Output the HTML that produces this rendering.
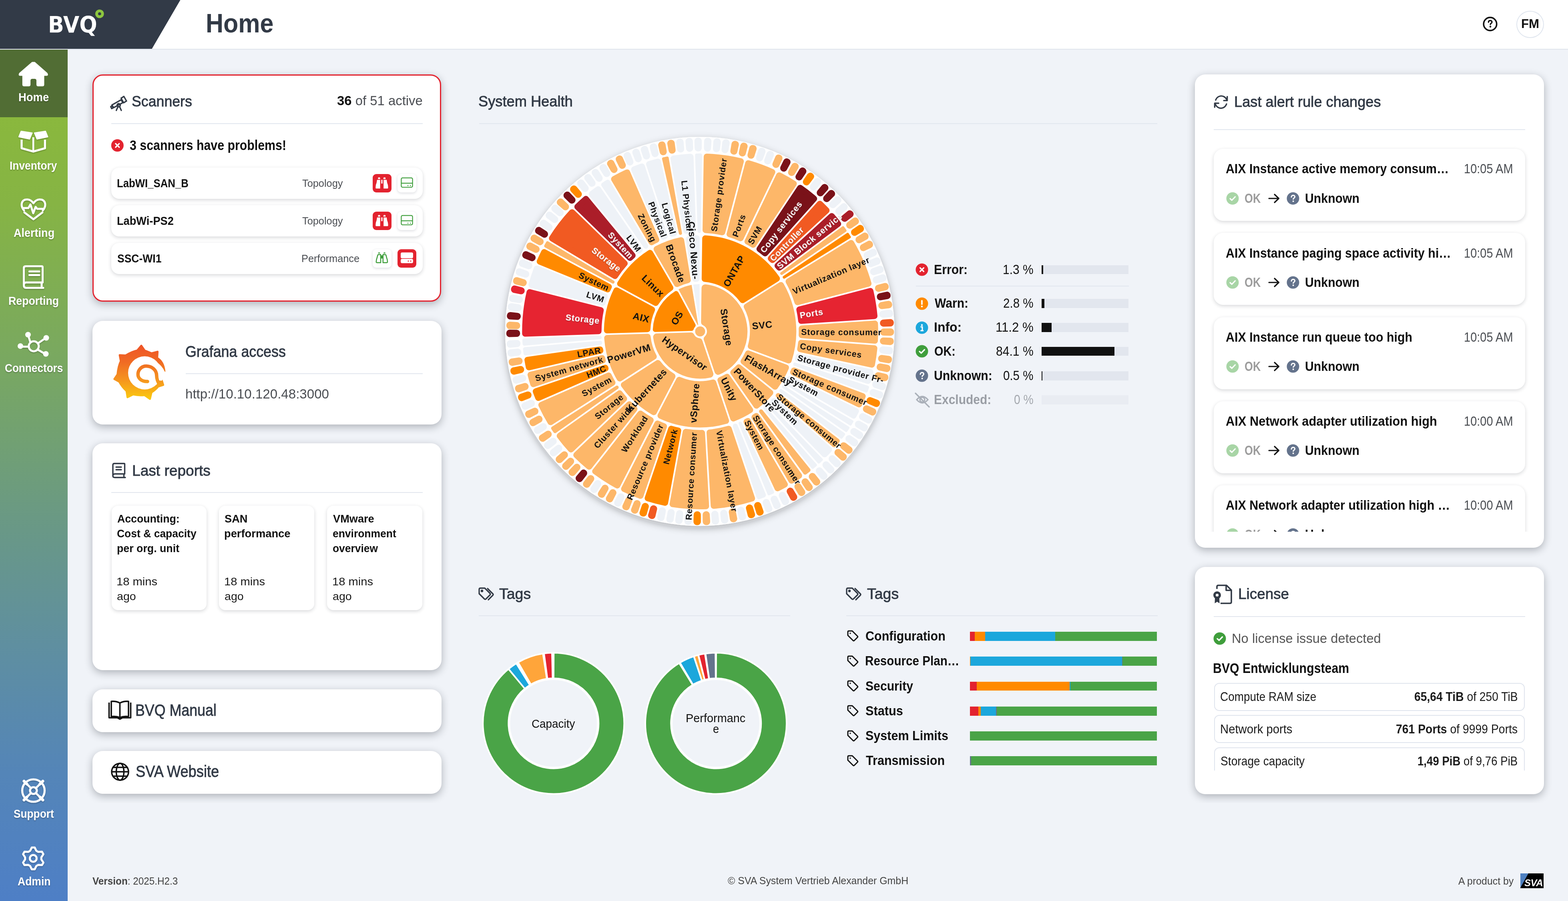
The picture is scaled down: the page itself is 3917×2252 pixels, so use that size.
<!DOCTYPE html><html><head><meta charset="utf-8"><title>BVQ Home</title><style>
*{margin:0;padding:0;box-sizing:border-box}
html,body{width:3917px;height:2252px;overflow:hidden;background:#f0f3f8}
body{position:relative;font-family:"Liberation Sans",Arial,sans-serif}
.a{position:absolute}
.t{position:absolute;white-space:nowrap;line-height:1}
.card{position:absolute;background:#fff;border-radius:26px;box-shadow:0 6px 20px rgba(20,25,35,.30)}
.row{position:absolute;background:#fff;border-radius:20px;box-shadow:0 3px 10px rgba(20,25,35,.17)}
.btn{position:absolute;background:#fff;border-radius:9px;box-shadow:0 2px 6px rgba(30,40,60,.16)}
svg.a{overflow:visible}
</style></head><body><svg width="0" height="0" style="position:absolute"><defs><filter id="ish" x="-30%" y="-30%" width="160%" height="170%"><feDropShadow dx="0" dy="2" stdDeviation="1.6" flood-color="#000" flood-opacity="0.25"/></filter></defs></svg><div class="a" style="left:0;top:0;width:3917px;height:124px;background:#fff;border-bottom:2px solid #dfe4ec"></div><svg class="a" style="left:0px;top:0px;" width="460" height="122" viewBox="0 0 460 122"><polygon points="0,0 450.5,0 379.5,122 0,122" fill="#323a47"/></svg><div class="t" style="left:120.1px;top:33.9px;font-family:'DejaVu Sans','Liberation Sans',sans-serif;font-weight:700;font-size:57px;color:#fff;transform-origin:0 50%;transform:scaleX(0.917)">BVQ</div><svg class="a" style="left:236px;top:22px;" width="26" height="26" viewBox="0 0 26 26"><circle cx="12.8" cy="12.5" r="7.3" fill="none" stroke="#8dc63f" stroke-width="7"/></svg><div class="t" style="left:514.4px;top:24.8px;font-size:66.13px;color:#323a46;transform-origin:0 50%;transform:scaleX(0.9225);font-weight:700;">Home</div><svg class="a" style="left:3700px;top:38px;" width="46" height="46" viewBox="0 0 46 46"><circle cx="22.5" cy="22" r="16.3" fill="none" stroke="#111" stroke-width="3.7"/><path d="M18.4 17.6c0-2.7 1.9-4.2 4.4-4.2 2.5 0 4.3 1.5 4.3 3.7 0 2-1.4 2.7-2.6 3.5-0.9.6-1.4 1.2-1.4 2.6" fill="none" stroke="#111" stroke-width="3.3" stroke-linecap="round"/><circle cx="23.1" cy="28.6" r="2.3" fill="#111"/></svg><div class="a" style="left:3788px;top:27px;width:68.5px;height:68px;border:2.5px solid #dfe5ee;border-radius:50%;background:#fff"></div><div class="t" style="left:3800.1px;top:43.7px;font-size:31.76px;color:#111;transform-origin:0 50%;transform:scaleX(0.9853);font-weight:700;">FM</div><div class="a" style="left:0;top:124px;width:169px;height:2128px;background:linear-gradient(180deg,#8dbb38 0%,#86b444 18%,#78a763 38%,#6a9984 55%,#5f8fa0 70%,#5485b8 85%,#4e7fc6 100%)"></div><div class="a" style="left:0;top:124px;width:169px;height:169px;background:#516d34"></div><div class="t" style="left:46.0px;top:229.2px;font-size:28.64px;color:#fff;transform-origin:0 50%;transform:scaleX(0.9576);font-weight:700;text-shadow:0 2px 3px rgba(0,0,0,.28);">Home</div><div class="t" style="left:24.4px;top:399.6px;font-size:28.64px;color:#fff;transform-origin:0 50%;transform:scaleX(0.9198);font-weight:700;text-shadow:0 2px 3px rgba(0,0,0,.28);">Inventory</div><div class="t" style="left:34.0px;top:567.6px;font-size:28.64px;color:#fff;transform-origin:0 50%;transform:scaleX(0.9447);font-weight:700;text-shadow:0 2px 3px rgba(0,0,0,.28);">Alerting</div><div class="t" style="left:21.4px;top:737.6px;font-size:28.64px;color:#fff;transform-origin:0 50%;transform:scaleX(0.9334);font-weight:700;text-shadow:0 2px 3px rgba(0,0,0,.28);">Reporting</div><div class="t" style="left:11.8px;top:905.9px;font-size:28.64px;color:#fff;transform-origin:0 50%;transform:scaleX(0.9139);font-weight:700;text-shadow:0 2px 3px rgba(0,0,0,.28);">Connectors</div><div class="t" style="left:33.9px;top:2019.6px;font-size:28.64px;color:#fff;transform-origin:0 50%;transform:scaleX(0.9176);font-weight:700;text-shadow:0 2px 3px rgba(0,0,0,.28);">Support</div><div class="t" style="left:43.7px;top:2188.6px;font-size:28.64px;color:#fff;transform-origin:0 50%;transform:scaleX(0.9257);font-weight:700;text-shadow:0 2px 3px rgba(0,0,0,.28);">Admin</div><svg class="a" style="left:0px;top:0px;" width="169" height="2252" viewBox="0 0 169 2252"><path d="M80.2 155.5 H86.8 L117.5 182.5 Q121.5 188.8 115.5 188.8 H51 Q45 188.8 49 182.5 Z" fill="#fff" stroke="#fff" stroke-width="1.5" stroke-linejoin="round"/><path d="M55.8 187 H110.5 V211.2 Q110.5 215.7 106 215.7 H95.5 Q91 215.7 91 211.2 V201.4 Q91 196.9 86.5 196.9 H80.7 Q76.2 196.9 76.2 201.4 V211.2 Q76.2 215.7 71.7 215.7 H60.3 Q55.8 215.7 55.8 211.2 Z" fill="#fff"/><g filter="url(#ish)"><path d="M54 349 V370.5 L83.2 378.8 L112.4 370.5 V349" fill="none" stroke="#fff" stroke-width="5.2" stroke-linejoin="round"/><path d="M83.2 343 V377" stroke="#fff" stroke-width="4.6"/><path d="M52.8 328 L80.2 332.2 L73.8 347.6 L47.2 342 Z" fill="#fff" stroke="#fff" stroke-width="2.6" stroke-linejoin="round"/><path d="M113.6 328 L86.2 332.2 L92.6 347.6 L119.2 342 Z" fill="#fff" stroke="#fff" stroke-width="2.6" stroke-linejoin="round"/></g><g filter="url(#ish)" fill="none" stroke="#fff" stroke-width="5" stroke-linejoin="round" stroke-linecap="round"><path d="M60 526 C50 514 53 499 67 498.5 C75 498 80 503 83.5 508 C87 503 92 498 100 498.5 C114 499 117 514 107 526"/><path d="M61 531 L83.5 548 L106 531"/><path d="M58 520 H71 L76 511 L83 533 L89 517 L93 522 H109"/></g><g filter="url(#ish)" fill="none" stroke="#fff" stroke-width="5" stroke-linejoin="round" stroke-linecap="round"><path d="M59.5 712 V670 Q59.5 665.5 64 665.5 H104 Q106.5 665.5 106.5 668 V706 H65.5 Q59.5 706 59.5 712.5 Q59.5 719.5 65.5 719.5 H108"/><path d="M73.5 678.5 H98 M73.5 687.5 H98"/><path d="M104 708 V719"/></g><g filter="url(#ish)" fill="none" stroke="#fff" stroke-width="5" stroke-linecap="round"><circle cx="84.3" cy="865.5" r="12.5"/><path d="M76 856 L71 840 M95 858 L111 847 M71.8 866.5 L54 866.5 M94.5 874 L110 883"/></g><g fill="#fff"><circle cx="70" cy="836.5" r="7"/><circle cx="115.5" cy="844.5" r="7"/><circle cx="51" cy="865" r="7"/><circle cx="114.5" cy="884.5" r="7"/></g><g filter="url(#ish)" fill="none" stroke="#fff" stroke-width="5.2" stroke-linecap="round"><circle cx="83.5" cy="1976" r="28"/><circle cx="83.5" cy="1976" r="8.5"/><path d="M65 1957.5 L77.5 1970 M102 1957.5 L89.5 1970 M65 1994.5 L77.5 1982 M102 1994.5 L89.5 1982"/><path d="M60 1952.5 L67 1959.5 M107 1952.5 L100 1959.5 M60 1999.5 L67 1992.5 M107 1999.5 L100 1992.5" stroke-width="7"/></g><g filter="url(#ish)" fill="none" stroke="#fff" stroke-width="5" stroke-linejoin="round"><path d="M79.4 2118.2 L86.6 2118.2 L90.8 2126.6 L95.5 2129.2 L104.8 2128.8 L108.4 2135.0 L103.3 2142.8 L103.3 2148.2 L108.4 2156.0 L104.8 2162.2 L95.5 2161.8 L90.8 2164.4 L86.6 2172.8 L79.4 2172.8 L75.2 2164.4 L70.5 2161.8 L61.2 2162.2 L57.6 2156.0 L62.7 2148.2 L62.7 2142.8 L57.6 2135.0 L61.2 2128.8 L70.5 2129.2 L75.2 2126.6 Z"/><circle cx="83" cy="2145.5" r="8.5"/></g></svg><div class="a" style="left:169px;top:124px;width:3748px;height:1883px;overflow:hidden"><div class="a" style="left:-169px;top:-124px;width:3917px;height:2252px"><div class="card" style="left:231px;top:186px;width:871px;height:568px;border:3px solid #e3232f;box-sizing:border-box;border-radius:26px"></div><svg class="a" style="left:272px;top:232px;" width="48" height="44" viewBox="0 0 48 44"><g fill="none" stroke="#323a46" stroke-width="3.3" stroke-linejoin="round" stroke-linecap="round"><path d="M7.5 30.5 L30.5 17.5 L35 24.5 L12 37 Z"/><path d="M30.5 13.5 L37.5 9 L44 20.5 L37 24.8 Z"/><path d="M4.5 34.5 L7.5 32.5 L10.5 37.5 L7 39.5 Z"/><circle cx="24.5" cy="31" r="4"/><path d="M22.5 35 L18.5 44 M27 35 L31 44"/></g></svg><div class="t" style="left:329.4px;top:235.9px;font-size:36.97px;color:#323a46;transform-origin:0 50%;transform:scaleX(0.9658);-webkit-text-stroke:0.85px currentColor;">Scanners</div><div class="t" style="left:842.2px;top:236.1px;font-size:32.81px;color:#4a4d52;transform-origin:0 50%;transform:scaleX(1.0023);"><b style="color:#111">36</b> of 51 active</div><div class="a" style="left:278px;top:308.0px;width:778px;height:2px;background:#e1e6ee"></div><svg class="a" style="left:277px;top:347px;" width="33" height="33" viewBox="0 0 33 33"><circle cx="16.3" cy="16.5" r="15.5" fill="#e3232f"/><path d="M11.8 12 L20.8 21 M20.8 12 L11.8 21" stroke="#fff" stroke-width="3.2" stroke-linecap="round"/></svg><div class="t" style="left:324.2px;top:346.4px;font-size:34.37px;color:#111;transform-origin:0 50%;transform:scaleX(0.8826);font-weight:700;">3 scanners have problems!</div><div class="row" style="left:278px;top:419px;width:778px;height:78px"></div><div class="t" style="left:291.6px;top:442.9px;font-size:29.99px;color:#111;transform-origin:0 50%;transform:scaleX(0.8585);font-weight:700;">LabWI_SAN_B</div><div class="t" style="left:754.5px;top:444.6px;font-size:26.56px;color:#4a4d52;transform-origin:0 50%;transform:scaleX(0.9544);">Topology</div><div class="a" style="left:931px;top:435px;width:46.5px;height:46px;border-radius:9px;background:#e3232f"></div><svg class="a" style="left:931px;top:435px;" width="46.5" height="46" viewBox="0 0 46.5 46"><path d="M13.3 12.6 V10.6 Q13.3 8.2 16 8.2 Q18.7 8.2 18.7 10.6 V12.6 Z M26.8 12.6 V10.6 Q26.8 8.2 29.5 8.2 Q32.2 8.2 32.2 10.6 V12.6 Z" fill="#fff"/><path d="M10.9 14.4 H18.7 V36.2 H8.6 Q7.3 36.2 7.3 34.6 Q7.3 27.5 9.3 23.2 Q10.3 20 10.9 14.4 Z" fill="#fff"/><path d="M35 14.4 H27.2 V36.2 H37.3 Q38.6 36.2 38.6 34.6 Q38.6 27.5 36.6 23.2 Q35.6 20 35 14.4 Z" fill="#fff"/><rect x="21.4" y="14.4" width="3.2" height="9.4" fill="#fff"/></svg><div class="btn" style="left:993px;top:435px;width:46.5px;height:46px"></div><svg class="a" style="left:993px;top:435px;" width="46.5" height="46" viewBox="0 0 46.5 46"><g fill="none" stroke="#3f9e3c" stroke-width="2.2" stroke-linejoin="round"><rect x="9.4" y="9.6" width="28.2" height="23.4" rx="3.2"/><path d="M9.4 22.9 H37.6"/></g><circle cx="26.1" cy="28.9" r="1.3" fill="#3f9e3c"/><circle cx="32.1" cy="28.9" r="1.3" fill="#3f9e3c"/></svg><div class="row" style="left:278px;top:513px;width:778px;height:78px"></div><div class="t" style="left:291.5px;top:536.9px;font-size:29.99px;color:#111;transform-origin:0 50%;transform:scaleX(0.9069);font-weight:700;">LabWi-PS2</div><div class="t" style="left:754.5px;top:538.6px;font-size:26.56px;color:#4a4d52;transform-origin:0 50%;transform:scaleX(0.9544);">Topology</div><div class="a" style="left:931px;top:529px;width:46.5px;height:46px;border-radius:9px;background:#e3232f"></div><svg class="a" style="left:931px;top:529px;" width="46.5" height="46" viewBox="0 0 46.5 46"><path d="M13.3 12.6 V10.6 Q13.3 8.2 16 8.2 Q18.7 8.2 18.7 10.6 V12.6 Z M26.8 12.6 V10.6 Q26.8 8.2 29.5 8.2 Q32.2 8.2 32.2 10.6 V12.6 Z" fill="#fff"/><path d="M10.9 14.4 H18.7 V36.2 H8.6 Q7.3 36.2 7.3 34.6 Q7.3 27.5 9.3 23.2 Q10.3 20 10.9 14.4 Z" fill="#fff"/><path d="M35 14.4 H27.2 V36.2 H37.3 Q38.6 36.2 38.6 34.6 Q38.6 27.5 36.6 23.2 Q35.6 20 35 14.4 Z" fill="#fff"/><rect x="21.4" y="14.4" width="3.2" height="9.4" fill="#fff"/></svg><div class="btn" style="left:993px;top:529px;width:46.5px;height:46px"></div><svg class="a" style="left:993px;top:529px;" width="46.5" height="46" viewBox="0 0 46.5 46"><g fill="none" stroke="#3f9e3c" stroke-width="2.2" stroke-linejoin="round"><rect x="9.4" y="9.6" width="28.2" height="23.4" rx="3.2"/><path d="M9.4 22.9 H37.6"/></g><circle cx="26.1" cy="28.9" r="1.3" fill="#3f9e3c"/><circle cx="32.1" cy="28.9" r="1.3" fill="#3f9e3c"/></svg><div class="row" style="left:278px;top:607px;width:778px;height:78px"></div><div class="t" style="left:292.5px;top:630.9px;font-size:29.99px;color:#111;transform-origin:0 50%;transform:scaleX(0.8842);font-weight:700;">SSC-WI1</div><div class="t" style="left:753.0px;top:632.6px;font-size:26.56px;color:#4a4d52;transform-origin:0 50%;transform:scaleX(0.9548);">Performance</div><div class="btn" style="left:931px;top:623px;width:46.5px;height:46px"></div><svg class="a" style="left:931px;top:623px;" width="46.5" height="46" viewBox="0 0 46.5 46"><path d="M13.3 10.4 Q13.3 7.8 16 7.8 Q18.7 7.8 18.7 10.4 Z M26.8 10.4 Q26.8 7.8 29.5 7.8 Q32.2 7.8 32.2 10.4 Z" fill="#3f9e3c"/><g fill="none" stroke="#3f9e3c" stroke-width="2.5" stroke-linejoin="round"><path d="M12.6 14.6 Q13.2 13.3 14.6 13.3 H20 V33.4 H10.5 Q8.8 33.4 8.8 31.6 Q8.8 26.5 10.6 22.2 Z"/><path d="M33.2 14.6 Q32.6 13.3 31.2 13.3 H25.8 V33.4 H35.3 Q37 33.4 37 31.6 Q37 26.5 35.2 22.2 Z"/></g><rect x="20.5" y="15.3" width="4.8" height="7.8" fill="#3f9e3c"/></svg><div class="a" style="left:993px;top:623px;width:46.5px;height:46px;border-radius:9px;background:#e3232f"></div><svg class="a" style="left:993px;top:623px;" width="46.5" height="46" viewBox="0 0 46.5 46"><rect x="8" y="7.9" width="30.9" height="14.6" rx="3.6" fill="#fff"/><rect x="8" y="23.9" width="30.9" height="10.9" rx="3.6" fill="#fff"/><circle cx="27" cy="29.6" r="1.5" fill="#e3232f"/><circle cx="33" cy="29.6" r="1.5" fill="#e3232f"/></svg><div class="card" style="left:231px;top:802px;width:872px;height:259px;"></div><svg class="a" style="left:0;top:0" width="1120" height="1100" viewBox="0 0 1120 1100"><defs><linearGradient id="gfg" gradientUnits="userSpaceOnUse" x1="0" y1="862" x2="0" y2="1001"><stop offset="0" stop-color="#ee5327"/><stop offset="0.3" stop-color="#f06a24"/><stop offset="0.62" stop-color="#f5931f"/><stop offset="1" stop-color="#fbcd0e"/></linearGradient></defs><path d="M410.8 928.5 L401.5 949 L403.7 949.6 L407.6 962.1 L395.1 966.1 Q389.7 972.9 378.4 980.8 L374.6 997.0 L361.0 987.4 Q346.1 988.9 332.6 985.8 L318.5 992.8 L316.1 977.2 Q304.4 966.2 298.0 954.0 L285.8 947.3 L293.6 935.8 Q295.6 914.9 301.8 902.5 L299.1 887.7 L314.1 888.4 Q329.6 878.8 343.1 875.9 L353.0 864.1 L361.7 876.7 Q365.7 877.2 378.2 883.1 L393.6 879.1 L392.6 894.9 Q408.5 904 410.8 928.5 Z" fill="url(#gfg)" stroke="url(#gfg)" stroke-width="5" stroke-linejoin="round"/><circle cx="361.5" cy="932" r="41.5" fill="#fff"/><path d="M391 905 Q405 914 411.2 928.5 L415.5 930 L404.5 951.5 L394 951 Z" fill="#fff"/><path d="M368.5 953.5 C353 954 344.3 945 344.7 935 C345.3 922 356 914.5 366 915 C380 915.5 391 925 391.2 938 C391.4 948 394 955 399 962" fill="none" stroke="url(#gfg)" stroke-width="8.5" stroke-linecap="round"/></svg><div class="t" style="left:463.2px;top:860.1px;font-size:38.53px;color:#323a46;transform-origin:0 50%;transform:scaleX(0.9300);-webkit-text-stroke:0.85px currentColor;">Grafana access</div><div class="a" style="left:464px;top:932.5px;width:592px;height:2px;background:#e1e6ee"></div><div class="t" style="left:462.7px;top:969.3px;font-size:32.29px;color:#4a4d52;transform-origin:0 50%;transform:scaleX(1.0257);">http://10.10.120.48:3000</div><div class="card" style="left:231px;top:1108px;width:872px;height:567px;"></div><svg class="a" style="left:278px;top:1155px;" width="38" height="42" viewBox="0 0 38 42"><g fill="none" stroke="#323a46" stroke-width="3.4" stroke-linejoin="round" stroke-linecap="round"><path d="M4 34 V7 Q4 3.5 7.5 3.5 H32 Q33.5 3.5 33.5 5 V29.5 H9 Q4 29.5 4 34.5 Q4 38.5 9 38.5 H35"/><path d="M12 12.5 H25 M12 19 H25"/><path d="M31.5 31 V38"/></g></svg><div class="t" style="left:329.7px;top:1158.9px;font-size:36.97px;color:#323a46;transform-origin:0 50%;transform:scaleX(1.0034);-webkit-text-stroke:0.85px currentColor;">Last reports</div><div class="a" style="left:278px;top:1230.0px;width:778px;height:2px;background:#e1e6ee"></div><div class="row" style="left:278.5px;top:1264px;width:237.5px;height:261px;border-radius:16px"></div><div class="t" style="left:292.8px;top:1283.0px;font-size:27.91px;color:#111;transform-origin:0 50%;transform:scaleX(0.9560);font-weight:700;">Accounting:</div><div class="t" style="left:292.4px;top:1320.0px;font-size:27.91px;color:#111;transform-origin:0 50%;transform:scaleX(0.9487);font-weight:700;">Cost &amp; capacity</div><div class="t" style="left:291.8px;top:1357.0px;font-size:27.91px;color:#111;transform-origin:0 50%;transform:scaleX(0.9587);font-weight:700;">per org. unit</div><div class="t" style="left:291.3px;top:1440.0px;font-size:27.91px;color:#1a1a1a;transform-origin:0 50%;transform:scaleX(1.0453);">18 mins</div><div class="t" style="left:292.4px;top:1477.0px;font-size:27.91px;color:#1a1a1a;transform-origin:0 50%;transform:scaleX(1.0240);">ago</div><div class="row" style="left:547px;top:1264px;width:237.5px;height:261px;border-radius:16px"></div><div class="t" style="left:561.2px;top:1283.0px;font-size:27.91px;color:#111;transform-origin:0 50%;transform:scaleX(0.9744);font-weight:700;">SAN</div><div class="t" style="left:560.2px;top:1320.0px;font-size:27.91px;color:#111;transform-origin:0 50%;transform:scaleX(0.9787);font-weight:700;">performance</div><div class="t" style="left:559.8px;top:1440.0px;font-size:27.91px;color:#1a1a1a;transform-origin:0 50%;transform:scaleX(1.0453);">18 mins</div><div class="t" style="left:560.9px;top:1477.0px;font-size:27.91px;color:#1a1a1a;transform-origin:0 50%;transform:scaleX(1.0240);">ago</div><div class="row" style="left:817px;top:1264px;width:237.5px;height:261px;border-radius:16px"></div><div class="t" style="left:831.9px;top:1283.0px;font-size:27.91px;color:#111;transform-origin:0 50%;transform:scaleX(0.9739);font-weight:700;">VMware</div><div class="t" style="left:830.9px;top:1320.0px;font-size:27.91px;color:#111;transform-origin:0 50%;transform:scaleX(0.9478);font-weight:700;">environment</div><div class="t" style="left:830.9px;top:1357.0px;font-size:27.91px;color:#111;transform-origin:0 50%;transform:scaleX(0.9453);font-weight:700;">overview</div><div class="t" style="left:829.8px;top:1440.0px;font-size:27.91px;color:#1a1a1a;transform-origin:0 50%;transform:scaleX(1.0453);">18 mins</div><div class="t" style="left:830.9px;top:1477.0px;font-size:27.91px;color:#1a1a1a;transform-origin:0 50%;transform:scaleX(1.0240);">ago</div><div class="card" style="left:231px;top:1722.5px;width:872px;height:107px;"></div><svg class="a" style="left:270px;top:1750px;" width="60" height="50" viewBox="0 0 60 50"><g fill="none" stroke="#111" stroke-width="3.6" stroke-linejoin="round"><path d="M2.5 6 V44 H23 L29.5 47.5 L36 44 H56.5 V6"/><path d="M8 41 V3 Q20 2 29.5 7 Q39 2 51 3 V41 Q39 39.5 29.5 43.5 Q20 39.5 8 41 Z"/><path d="M29.5 7 V43"/></g></svg><div class="t" style="left:337.6px;top:1754.6px;font-size:40.62px;color:#323a46;transform-origin:0 50%;transform:scaleX(0.8809);-webkit-text-stroke:0.85px currentColor;">BVQ Manual</div><div class="card" style="left:231px;top:1877px;width:872px;height:107px;"></div><svg class="a" style="left:276px;top:1905px;" width="50" height="50" viewBox="0 0 50 50"><g fill="none" stroke="#111" stroke-width="3.6"><circle cx="24" cy="24" r="21"/><ellipse cx="24" cy="24" rx="9.5" ry="21"/><path d="M3 24 H45 M6 13 H42 M6 35 H42"/></g></svg><div class="t" style="left:338.9px;top:1908.2px;font-size:40.62px;color:#323a46;transform-origin:0 50%;transform:scaleX(0.8925);-webkit-text-stroke:0.85px currentColor;">SVA Website</div><div class="t" style="left:1195.4px;top:236.3px;font-size:36.97px;color:#323a46;transform-origin:0 50%;transform:scaleX(0.9803);-webkit-text-stroke:0.85px currentColor;">System Health</div><div class="a" style="left:1197px;top:307.5px;width:1694px;height:2px;background:#e1e6ee"></div><svg class="a" style="left:0;top:0" width="3917" height="1400" viewBox="0 0 3917 1400"><defs><filter id="sbsh" x="-10%" y="-10%" width="120%" height="125%"><feDropShadow dx="0" dy="6" stdDeviation="9" flood-color="#141923" flood-opacity="0.30"/></filter><filter id="tsh" x="-20%" y="-40%" width="140%" height="180%"><feDropShadow dx="0" dy="1" stdDeviation="1.2" flood-color="#000" flood-opacity="0.45"/></filter></defs><circle cx="1748.2" cy="828.3" r="486.3" fill="#fff" filter="url(#sbsh)"/>
<circle cx="1749.0" cy="828.3" r="12.5" fill="#fdb769"/>
<path d="M1761.5 719.7A109.3 109.3 0 0 1 1793.9 927.9L1766.9 847.2A26.0 26.0 0 0 0 1760.3 804.9Z" fill="#fdb769" stroke="#fdb769" stroke-width="18.0" stroke-linejoin="round"/>
<path d="M1773.1 934.9A109.3 109.3 0 0 1 1640.6 842.5L1725.8 840.0A26.0 26.0 0 0 0 1746.0 854.1Z" fill="#fdb769" stroke="#fdb769" stroke-width="18.0" stroke-linejoin="round"/>
<path d="M1636.6 823.8A112.5 112.5 0 0 1 1689.1 733.1L1731.9 813.1A22.8 22.8 0 0 0 1727.3 821.1Z" fill="#ff8a00" stroke="#ff8a00" stroke-width="11.7" stroke-linejoin="round"/>
<path d="M1695.4 723.3A117.9 117.9 0 0 1 1727.4 712.4L1743.8 811.7A17.4 17.4 0 0 0 1743.0 812.0Z" fill="#fdb769" stroke="#fdb769" stroke-width="0.8" stroke-linejoin="round"/>
<path d="M1731.7 711.3A118.3 118.3 0 0 1 1747.6 710.0L1747.7 811.4Z" fill="#eef2f7"/>
<path d="M1761.7 595.8A232.8 232.8 0 0 1 1940.8 696.3L1855.2 750.2A131.8 131.8 0 0 0 1760.3 697.0Z" fill="#ff8a00" stroke="#ff8a00" stroke-width="15.0" stroke-linejoin="round"/>
<path d="M1950.9 712.4A232.8 232.8 0 0 1 1970.2 900.9L1875.5 865.4A131.8 131.8 0 0 0 1865.3 766.3Z" fill="#fdb769" stroke="#fdb769" stroke-width="15.0" stroke-linejoin="round"/>
<path d="M1963.5 918.7A232.8 232.8 0 0 1 1936.2 966.6L1857.4 903.3A131.8 131.8 0 0 0 1868.8 883.2Z" fill="#fdb769" stroke="#fdb769" stroke-width="15.0" stroke-linejoin="round"/>
<path d="M1924.3 981.5A232.8 232.8 0 0 1 1889.6 1013.9L1831.8 930.8A131.8 131.8 0 0 0 1845.5 918.1Z" fill="#fdb769" stroke="#fdb769" stroke-width="15.0" stroke-linejoin="round"/>
<path d="M1874.0 1024.7A232.8 232.8 0 0 1 1831.8 1045.9L1799.7 949.9A131.8 131.8 0 0 0 1816.2 941.7Z" fill="#fdb769" stroke="#fdb769" stroke-width="15.0" stroke-linejoin="round"/>
<path d="M1813.8 1051.9A232.8 232.8 0 0 1 1650.0 1039.0L1696.7 949.3A131.8 131.8 0 0 0 1781.7 956.0Z" fill="#fdb769" stroke="#fdb769" stroke-width="15.0" stroke-linejoin="round"/>
<path d="M1633.2 1030.2A232.8 232.8 0 0 1 1558.4 962.0L1643.5 907.3A131.8 131.8 0 0 0 1679.9 940.5Z" fill="#fdb769" stroke="#fdb769" stroke-width="15.0" stroke-linejoin="round"/>
<path d="M1548.1 946.0A232.8 232.8 0 0 1 1516.8 844.7L1617.9 841.7A131.8 131.8 0 0 0 1633.2 891.3Z" fill="#fdb769" stroke="#fdb769" stroke-width="15.0" stroke-linejoin="round"/>
<path d="M1516.2 825.7A232.8 232.8 0 0 1 1540.0 725.7L1628.9 773.9A131.8 131.8 0 0 0 1617.3 822.7Z" fill="#ff8a00" stroke="#ff8a00" stroke-width="15.0" stroke-linejoin="round"/>
<path d="M1549.1 709.0A232.8 232.8 0 0 1 1623.8 632.0L1674.7 719.5A131.8 131.8 0 0 0 1638.0 757.2Z" fill="#ff8a00" stroke="#ff8a00" stroke-width="15.0" stroke-linejoin="round"/>
<path d="M1640.2 622.5A232.8 232.8 0 0 1 1701.6 600.4L1718.2 700.2A131.8 131.8 0 0 0 1691.1 709.9Z" fill="#fdb769" stroke="#fdb769" stroke-width="15.0" stroke-linejoin="round"/>
<path d="M1720.4 597.3A232.8 232.8 0 0 1 1740.7 595.6L1740.2 696.8A131.8 131.8 0 0 0 1736.9 697.1Z" fill="#eef2f7" stroke="#eef2f7" stroke-width="15.0" stroke-linejoin="round"/>
<path d="M1765.4 391.4A437.2 437.2 0 0 1 1850.7 403.1L1804.2 580.6A253.8 253.8 0 0 0 1762.5 574.9Z" fill="#fdb769" stroke="#fdb769" stroke-width="15.0" stroke-linejoin="round"/>
<path d="M1869.1 407.9A437.2 437.2 0 0 1 1929.3 430.0L1850.0 595.5A253.8 253.8 0 0 0 1822.5 585.4Z" fill="#fdb769" stroke="#fdb769" stroke-width="15.0" stroke-linejoin="round"/>
<path d="M1946.4 438.2A437.2 437.2 0 0 1 1983.0 459.0L1881.4 611.8A253.8 253.8 0 0 0 1867.2 603.7Z" fill="#fdb769" stroke="#fdb769" stroke-width="15.0" stroke-linejoin="round"/>
<path d="M1998.8 469.5A437.2 437.2 0 0 1 2033.8 496.6L1911.3 633.2A253.8 253.8 0 0 0 1897.3 622.3Z" fill="#7a1219" stroke="#7a1219" stroke-width="15.0" stroke-linejoin="round"/>
<path d="M2048.0 509.3A437.2 437.2 0 0 1 2064.8 526.0L1929.6 650.0A253.8 253.8 0 0 0 1925.4 645.9Z" fill="#f15a22" stroke="#f15a22" stroke-width="15.0" stroke-linejoin="round"/>
<path d="M2077.7 540.0A437.2 437.2 0 0 1 2093.8 559.5L1946.7 669.1A253.8 253.8 0 0 0 1942.4 664.0Z" fill="#ab1e29" stroke="#ab1e29" stroke-width="15.0" stroke-linejoin="round"/>
<path d="M2106.0 569.0A441.2 441.2 0 0 1 2111.2 576.4L1952.7 683.7A249.8 249.8 0 0 0 1952.5 683.5Z" fill="#fdb769" stroke="#fdb769" stroke-width="7.0" stroke-linejoin="round"/>
<path d="M2117.5 585.2A441.4 441.4 0 0 1 2122.2 592.5L1958.8 693.1A249.6 249.6 0 0 0 1958.6 692.8Z" fill="#ff8a00" stroke="#ff8a00" stroke-width="6.6" stroke-linejoin="round"/>
<path d="M2126.3 607.4A437.2 437.2 0 0 1 2169.6 708.9L1992.0 755.2A253.8 253.8 0 0 0 1970.0 703.5Z" fill="#fdb769" stroke="#fdb769" stroke-width="15.0" stroke-linejoin="round"/>
<path d="M2174.4 727.3A437.2 437.2 0 0 1 2184.5 789.9L2001.4 802.0A253.8 253.8 0 0 0 1996.8 773.6Z" fill="#e62431" stroke="#e62431" stroke-width="15.0" stroke-linejoin="round"/>
<path d="M2185.8 808.8A437.2 437.2 0 0 1 2185.6 851.6L2002.6 837.8A253.8 253.8 0 0 0 2002.7 821.0Z" fill="#fdb769" stroke="#fdb769" stroke-width="15.0" stroke-linejoin="round"/>
<path d="M2184.2 870.5A437.2 437.2 0 0 1 2178.2 911.4L1998.9 872.6A253.8 253.8 0 0 0 2001.2 856.8Z" fill="#fdb769" stroke="#fdb769" stroke-width="15.0" stroke-linejoin="round"/>
<path d="M2174.2 930.0A437.2 437.2 0 0 1 2168.3 952.1L1993.5 896.4A253.8 253.8 0 0 0 1994.9 891.2Z" fill="#eef2f7" stroke="#eef2f7" stroke-width="15.0" stroke-linejoin="round"/>
<path d="M2167.1 967.9A440.8 440.8 0 0 1 2163.9 977.1L1985.4 910.4A250.2 250.2 0 0 0 1985.5 910.0Z" fill="#eef2f7" stroke="#eef2f7" stroke-width="7.8" stroke-linejoin="round"/>
<path d="M2155.1 990.3A437.2 437.2 0 0 1 2146.3 1010.7L1981.3 930.5A253.8 253.8 0 0 0 1983.2 926.0Z" fill="#fdb769" stroke="#fdb769" stroke-width="15.0" stroke-linejoin="round"/>
<path d="M2139.1 1027.4A438.0 438.0 0 0 1 2132.6 1039.7L1972.3 947.2A253.0 253.0 0 0 0 1972.6 946.6Z" fill="#eef2f7" stroke="#eef2f7" stroke-width="13.4" stroke-linejoin="round"/>
<path d="M2128.9 1053.5A441.6 441.6 0 0 1 2124.6 1060.6L1962.2 957.6A249.4 249.4 0 0 0 1962.4 957.3Z" fill="#eef2f7" stroke="#eef2f7" stroke-width="6.1" stroke-linejoin="round"/>
<path d="M2118.8 1069.3A441.4 441.4 0 0 1 2114.0 1076.5L1956.7 966.7A249.6 249.6 0 0 0 1956.9 966.5Z" fill="#eef2f7" stroke="#eef2f7" stroke-width="6.6" stroke-linejoin="round"/>
<path d="M2107.4 1085.3A441.0 441.0 0 0 1 2101.8 1092.8L1950.5 976.3A250.0 250.0 0 0 0 1950.7 976.0Z" fill="#eef2f7" stroke="#eef2f7" stroke-width="7.4" stroke-linejoin="round"/>
<path d="M2091.9 1102.2A438.9 438.9 0 0 1 2083.8 1112.0L1943.5 988.7A252.1 252.1 0 0 0 1943.9 988.3Z" fill="#fdb769" stroke="#fdb769" stroke-width="11.7" stroke-linejoin="round"/>
<path d="M2071.1 1123.9A437.2 437.2 0 0 1 2060.0 1135.6L1932.3 1003.8A253.8 253.8 0 0 0 1933.3 1002.8Z" fill="#eef2f7" stroke="#eef2f7" stroke-width="15.0" stroke-linejoin="round"/>
<path d="M2052.1 1148.9A441.2 441.2 0 0 1 2045.4 1155.1L1918.6 1011.7A249.8 249.8 0 0 0 1918.8 1011.5Z" fill="#eef2f7" stroke="#eef2f7" stroke-width="7.0" stroke-linejoin="round"/>
<path d="M2037.2 1162.4A441.2 441.2 0 0 1 2030.3 1168.2L1910.1 1019.2A249.8 249.8 0 0 0 1910.4 1019.0Z" fill="#eef2f7" stroke="#eef2f7" stroke-width="7.0" stroke-linejoin="round"/>
<path d="M2020.0 1174.9A439.9 439.9 0 0 1 2011.2 1181.6L1901.0 1028.2A251.1 251.1 0 0 0 1901.3 1027.9Z" fill="#fdb769" stroke="#fdb769" stroke-width="9.5" stroke-linejoin="round"/>
<path d="M1996.3 1188.8A437.2 437.2 0 0 1 1977.1 1201.3L1884.8 1042.7A253.8 253.8 0 0 0 1889.3 1039.8Z" fill="#fdb769" stroke="#fdb769" stroke-width="15.0" stroke-linejoin="round"/>
<path d="M1960.7 1210.9A437.2 437.2 0 0 1 1942.3 1220.4L1864.8 1054.1A253.8 253.8 0 0 0 1868.4 1052.3Z" fill="#fdb769" stroke="#fdb769" stroke-width="15.0" stroke-linejoin="round"/>
<path d="M1929.9 1230.2A440.8 440.8 0 0 1 1921.0 1234.1L1849.0 1057.7A250.2 250.2 0 0 0 1849.4 1057.5Z" fill="#eef2f7" stroke="#eef2f7" stroke-width="7.8" stroke-linejoin="round"/>
<path d="M1907.5 1237.5A438.9 438.9 0 0 1 1895.7 1241.9L1836.4 1064.8A252.1 252.1 0 0 0 1837.0 1064.6Z" fill="#eef2f7" stroke="#eef2f7" stroke-width="11.7" stroke-linejoin="round"/>
<path d="M1878.7 1245.8A437.2 437.2 0 0 1 1782.9 1264.2L1772.6 1081.0A253.8 253.8 0 0 0 1820.5 1071.8Z" fill="#fdb769" stroke="#fdb769" stroke-width="15.0" stroke-linejoin="round"/>
<path d="M1763.9 1265.2A437.2 437.2 0 0 1 1680.2 1260.1L1713.0 1079.5A253.8 253.8 0 0 0 1753.7 1082.1Z" fill="#fdb769" stroke="#fdb769" stroke-width="15.0" stroke-linejoin="round"/>
<path d="M1661.5 1256.7A437.2 437.2 0 0 1 1617.9 1245.4L1676.7 1071.6A253.8 253.8 0 0 0 1694.3 1076.1Z" fill="#ff8a00" stroke="#ff8a00" stroke-width="15.0" stroke-linejoin="round"/>
<path d="M1599.9 1239.3A437.2 437.2 0 0 1 1559.0 1222.1L1642.3 1058.6A253.8 253.8 0 0 0 1658.7 1065.5Z" fill="#fdb769" stroke="#fdb769" stroke-width="15.0" stroke-linejoin="round"/>
<path d="M1542.1 1213.4A437.2 437.2 0 0 1 1486.8 1178.1L1600.0 1033.7A253.8 253.8 0 0 0 1625.4 1050.0Z" fill="#fdb769" stroke="#fdb769" stroke-width="15.0" stroke-linejoin="round"/>
<path d="M1471.8 1166.4A437.2 437.2 0 0 1 1439.6 1137.2L1572.2 1010.4A253.8 253.8 0 0 0 1585.0 1022.0Z" fill="#fdb769" stroke="#fdb769" stroke-width="15.0" stroke-linejoin="round"/>
<path d="M1426.4 1123.4A437.2 437.2 0 0 1 1398.2 1089.2L1547.8 983.0A253.8 253.8 0 0 0 1559.1 996.7Z" fill="#fdb769" stroke="#fdb769" stroke-width="15.0" stroke-linejoin="round"/>
<path d="M1386.4 1078.5A440.6 440.6 0 0 1 1380.8 1070.2L1541.1 968.0A250.4 250.4 0 0 0 1541.4 968.3Z" fill="#fdb769" stroke="#fdb769" stroke-width="8.3" stroke-linejoin="round"/>
<path d="M1375.3 1055.1A437.2 437.2 0 0 1 1352.3 1012.0L1520.4 938.5A253.8 253.8 0 0 0 1530.0 956.6Z" fill="#fdb769" stroke="#fdb769" stroke-width="15.0" stroke-linejoin="round"/>
<path d="M1344.7 994.6A437.2 437.2 0 0 1 1338.3 978.2L1512.0 919.0A253.8 253.8 0 0 0 1512.8 921.1Z" fill="#ff8a00" stroke="#ff8a00" stroke-width="15.0" stroke-linejoin="round"/>
<path d="M1332.2 960.2A437.2 437.2 0 0 1 1325.4 936.6L1504.1 895.0A253.8 253.8 0 0 0 1505.8 901.0Z" fill="#fdb769" stroke="#fdb769" stroke-width="15.0" stroke-linejoin="round"/>
<path d="M1321.1 918.1A437.2 437.2 0 0 1 1317.6 899.3L1499.2 873.4A253.8 253.8 0 0 0 1499.8 876.5Z" fill="#ff8a00" stroke="#ff8a00" stroke-width="15.0" stroke-linejoin="round"/>
<path d="M1312.6 883.6A439.9 439.9 0 0 1 1311.3 872.6L1499.5 856.5A251.1 251.1 0 0 0 1499.6 857.0Z" fill="#eef2f7" stroke="#eef2f7" stroke-width="9.5" stroke-linejoin="round"/>
<path d="M1309.6 859.8A440.6 440.6 0 0 1 1309.0 849.8L1499.0 843.2A250.4 250.4 0 0 0 1499.0 843.6Z" fill="#eef2f7" stroke="#eef2f7" stroke-width="8.3" stroke-linejoin="round"/>
<path d="M1311.8 834.1A437.2 437.2 0 0 1 1322.9 730.3L1500.8 775.3A253.8 253.8 0 0 0 1495.2 827.7Z" fill="#e62431" stroke="#e62431" stroke-width="15.0" stroke-linejoin="round"/>
<path d="M1327.6 711.9A437.2 437.2 0 0 1 1341.0 671.2L1510.7 740.9A253.8 253.8 0 0 0 1505.5 756.9Z" fill="#eef2f7" stroke="#eef2f7" stroke-width="15.0" stroke-linejoin="round"/>
<path d="M1348.2 653.7A437.2 437.2 0 0 1 1359.3 630.1L1521.0 716.8A253.8 253.8 0 0 0 1518.0 723.3Z" fill="#ff8a00" stroke="#ff8a00" stroke-width="15.0" stroke-linejoin="round"/>
<path d="M1363.1 614.9A441.0 441.0 0 0 1 1367.7 606.7L1531.6 704.8A250.0 250.0 0 0 0 1531.4 705.2Z" fill="#fdb769" stroke="#fdb769" stroke-width="7.4" stroke-linejoin="round"/>
<path d="M1378.8 595.7A437.2 437.2 0 0 1 1429.0 530.4L1560.6 658.3A253.8 253.8 0 0 0 1536.3 689.9Z" fill="#f15a22" stroke="#f15a22" stroke-width="15.0" stroke-linejoin="round"/>
<path d="M1442.3 516.8A437.2 437.2 0 0 1 1463.6 497.1L1580.3 638.6A253.8 253.8 0 0 0 1573.8 644.7Z" fill="#ab1e29" stroke="#ab1e29" stroke-width="15.0" stroke-linejoin="round"/>
<path d="M1478.3 485.0A437.2 437.2 0 0 1 1494.2 473.0L1597.9 624.4A253.8 253.8 0 0 0 1595.0 626.6Z" fill="#eef2f7" stroke="#eef2f7" stroke-width="15.0" stroke-linejoin="round"/>
<path d="M1507.6 461.8A438.9 438.9 0 0 1 1518.2 455.0L1613.6 615.6A252.1 252.1 0 0 0 1613.1 615.9Z" fill="#eef2f7" stroke="#eef2f7" stroke-width="11.7" stroke-linejoin="round"/>
<path d="M1534.0 447.6A437.2 437.2 0 0 1 1566.7 430.9L1639.6 599.3A253.8 253.8 0 0 0 1627.7 605.4Z" fill="#fdb769" stroke="#fdb769" stroke-width="15.0" stroke-linejoin="round"/>
<path d="M1584.1 423.4A437.2 437.2 0 0 1 1603.5 416.0L1660.8 590.3A253.8 253.8 0 0 0 1657.0 591.8Z" fill="#eef2f7" stroke="#eef2f7" stroke-width="15.0" stroke-linejoin="round"/>
<path d="M1621.5 410.1A437.2 437.2 0 0 1 1643.6 404.0L1684.0 583.0A253.8 253.8 0 0 0 1678.8 584.4Z" fill="#eef2f7" stroke="#eef2f7" stroke-width="15.0" stroke-linejoin="round"/>
<path d="M1657.6 396.9A441.0 441.0 0 0 1 1666.8 395.0L1700.0 583.1A250.0 250.0 0 0 0 1699.6 583.2Z" fill="#fdb769" stroke="#fdb769" stroke-width="7.4" stroke-linejoin="round"/>
<path d="M1682.5 396.2A437.2 437.2 0 0 1 1725.0 391.8L1731.1 575.1A253.8 253.8 0 0 0 1714.3 576.9Z" fill="#eef2f7" stroke="#eef2f7" stroke-width="15.0" stroke-linejoin="round"/>
<path d="M1740.3 387.6A440.8 440.8 0 0 1 1750.0 387.5L1747.0 578.1A250.2 250.2 0 0 0 1746.6 578.1Z" fill="#eef2f7" stroke="#eef2f7" stroke-width="7.8" stroke-linejoin="round"/>
<path d="M1273.2 834.1A475.8 475.8 0 0 1 1273.2 832.5L1290.8 832.7A458.2 458.2 0 0 0 1290.8 833.5Z" fill="#7a1219" stroke="#7a1219" stroke-width="17.0" stroke-linejoin="round"/>
<path d="M1273.4 814.1A475.8 475.8 0 0 1 1273.5 812.6L1291.0 813.6A458.2 458.2 0 0 0 1291.0 814.3Z" fill="#fdb769" stroke="#fdb769" stroke-width="17.0" stroke-linejoin="round"/>
<path d="M1274.7 790.1A475.8 475.8 0 0 1 1274.9 788.5L1292.4 790.4A458.2 458.2 0 0 0 1292.3 791.1Z" fill="#7a1219" stroke="#7a1219" stroke-width="17.0" stroke-linejoin="round"/>
<path d="M1277.1 767.8A475.8 475.8 0 0 1 1277.3 766.2L1294.7 768.9A458.2 458.2 0 0 0 1294.6 769.6Z" fill="#eef2f7" stroke="#eef2f7" stroke-width="17.0" stroke-linejoin="round"/>
<path d="M1280.3 746.4A475.8 475.8 0 0 1 1280.6 744.9L1297.8 748.4A458.2 458.2 0 0 0 1297.7 749.1Z" fill="#eef2f7" stroke="#eef2f7" stroke-width="17.0" stroke-linejoin="round"/>
<path d="M1284.9 723.6A475.8 475.8 0 0 1 1285.2 722.1L1302.3 726.4A458.2 458.2 0 0 0 1302.1 727.1Z" fill="#e62431" stroke="#e62431" stroke-width="17.0" stroke-linejoin="round"/>
<path d="M1290.1 702.7A475.8 475.8 0 0 1 1290.5 701.2L1307.3 706.3A458.2 458.2 0 0 0 1307.2 707.0Z" fill="#fdb769" stroke="#fdb769" stroke-width="17.0" stroke-linejoin="round"/>
<path d="M1296.8 680.4A475.8 475.8 0 0 1 1297.2 679.0L1313.8 684.9A458.2 458.2 0 0 0 1313.6 685.5Z" fill="#eef2f7" stroke="#eef2f7" stroke-width="17.0" stroke-linejoin="round"/>
<path d="M1304.5 658.5A475.8 475.8 0 0 1 1305.1 657.1L1321.4 663.8A458.2 458.2 0 0 0 1321.1 664.4Z" fill="#eef2f7" stroke="#eef2f7" stroke-width="17.0" stroke-linejoin="round"/>
<path d="M1313.0 637.8A475.8 475.8 0 0 1 1313.6 636.3L1329.6 643.8A458.2 458.2 0 0 0 1329.3 644.5Z" fill="#7a1219" stroke="#7a1219" stroke-width="17.0" stroke-linejoin="round"/>
<path d="M1323.2 616.0A475.8 475.8 0 0 1 1323.9 614.6L1339.5 622.8A458.2 458.2 0 0 0 1339.1 623.5Z" fill="#fdb769" stroke="#fdb769" stroke-width="17.0" stroke-linejoin="round"/>
<path d="M1333.7 596.1A475.8 475.8 0 0 1 1334.4 594.8L1349.6 603.8A458.2 458.2 0 0 0 1349.2 604.4Z" fill="#fdb769" stroke="#fdb769" stroke-width="17.0" stroke-linejoin="round"/>
<path d="M1345.1 576.8A475.8 475.8 0 0 1 1345.9 575.5L1360.6 585.2A458.2 458.2 0 0 0 1360.2 585.8Z" fill="#7a1219" stroke="#7a1219" stroke-width="17.0" stroke-linejoin="round"/>
<path d="M1356.9 558.8A475.8 475.8 0 0 1 1357.8 557.5L1372.0 567.8A458.2 458.2 0 0 0 1371.6 568.4Z" fill="#eef2f7" stroke="#eef2f7" stroke-width="17.0" stroke-linejoin="round"/>
<path d="M1371.6 538.6A475.8 475.8 0 0 1 1372.5 537.4L1386.2 548.5A458.2 458.2 0 0 0 1385.8 549.0Z" fill="#eef2f7" stroke="#eef2f7" stroke-width="17.0" stroke-linejoin="round"/>
<path d="M1385.6 521.1A475.8 475.8 0 0 1 1386.6 520.0L1399.8 531.7A458.2 458.2 0 0 0 1399.3 532.2Z" fill="#eef2f7" stroke="#eef2f7" stroke-width="17.0" stroke-linejoin="round"/>
<path d="M1399.4 505.6A475.8 475.8 0 0 1 1400.4 504.5L1413.0 516.7A458.2 458.2 0 0 0 1412.6 517.2Z" fill="#fdb769" stroke="#fdb769" stroke-width="17.0" stroke-linejoin="round"/>
<path d="M1416.1 488.3A475.8 475.8 0 0 1 1417.2 487.2L1429.2 500.1A458.2 458.2 0 0 0 1428.7 500.6Z" fill="#7a1219" stroke="#7a1219" stroke-width="17.0" stroke-linejoin="round"/>
<path d="M1432.5 473.0A475.8 475.8 0 0 1 1433.7 472.0L1445.1 485.4A458.2 458.2 0 0 0 1444.5 485.9Z" fill="#ff8a00" stroke="#ff8a00" stroke-width="17.0" stroke-linejoin="round"/>
<path d="M1450.3 458.0A475.8 475.8 0 0 1 1451.5 457.0L1462.2 471.0A458.2 458.2 0 0 0 1461.6 471.4Z" fill="#eef2f7" stroke="#eef2f7" stroke-width="17.0" stroke-linejoin="round"/>
<path d="M1468.0 444.3A475.8 475.8 0 0 1 1469.3 443.4L1479.3 457.9A458.2 458.2 0 0 0 1478.7 458.3Z" fill="#eef2f7" stroke="#eef2f7" stroke-width="17.0" stroke-linejoin="round"/>
<path d="M1486.4 431.5A475.8 475.8 0 0 1 1487.7 430.7L1497.1 445.6A458.2 458.2 0 0 0 1496.5 446.0Z" fill="#eef2f7" stroke="#eef2f7" stroke-width="17.0" stroke-linejoin="round"/>
<path d="M1506.1 419.2A475.8 475.8 0 0 1 1507.5 418.4L1516.1 433.7A458.2 458.2 0 0 0 1515.5 434.1Z" fill="#eef2f7" stroke="#eef2f7" stroke-width="17.0" stroke-linejoin="round"/>
<path d="M1524.9 408.6A475.8 475.8 0 0 1 1526.3 407.8L1534.2 423.6A458.2 458.2 0 0 0 1533.6 423.9Z" fill="#fdb769" stroke="#fdb769" stroke-width="17.0" stroke-linejoin="round"/>
<path d="M1546.5 397.8A475.8 475.8 0 0 1 1547.9 397.1L1555.0 413.2A458.2 458.2 0 0 0 1554.3 413.5Z" fill="#fdb769" stroke="#fdb769" stroke-width="17.0" stroke-linejoin="round"/>
<path d="M1566.2 389.0A475.8 475.8 0 0 1 1567.6 388.4L1574.0 404.8A458.2 458.2 0 0 0 1573.3 405.1Z" fill="#eef2f7" stroke="#eef2f7" stroke-width="17.0" stroke-linejoin="round"/>
<path d="M1587.9 380.6A475.8 475.8 0 0 1 1589.3 380.1L1594.9 396.8A458.2 458.2 0 0 0 1594.2 397.0Z" fill="#eef2f7" stroke="#eef2f7" stroke-width="17.0" stroke-linejoin="round"/>
<path d="M1609.1 373.5A475.8 475.8 0 0 1 1610.6 373.1L1615.4 390.0A458.2 458.2 0 0 0 1614.7 390.2Z" fill="#eef2f7" stroke="#eef2f7" stroke-width="17.0" stroke-linejoin="round"/>
<path d="M1631.5 367.2A475.8 475.8 0 0 1 1633.0 366.8L1636.9 384.0A458.2 458.2 0 0 0 1636.3 384.2Z" fill="#eef2f7" stroke="#eef2f7" stroke-width="17.0" stroke-linejoin="round"/>
<path d="M1652.6 362.4A475.8 475.8 0 0 1 1654.1 362.1L1657.2 379.4A458.2 458.2 0 0 0 1656.5 379.5Z" fill="#fdb769" stroke="#fdb769" stroke-width="17.0" stroke-linejoin="round"/>
<path d="M1675.4 358.2A475.8 475.8 0 0 1 1677.0 358.0L1679.3 375.4A458.2 458.2 0 0 0 1678.6 375.5Z" fill="#fdb769" stroke="#fdb769" stroke-width="17.0" stroke-linejoin="round"/>
<path d="M1697.7 355.3A475.8 475.8 0 0 1 1699.2 355.1L1700.7 372.7A458.2 458.2 0 0 0 1700.0 372.7Z" fill="#eef2f7" stroke="#eef2f7" stroke-width="17.0" stroke-linejoin="round"/>
<path d="M1720.8 353.3A475.8 475.8 0 0 1 1722.4 353.2L1723.0 370.8A458.2 458.2 0 0 0 1722.3 370.9Z" fill="#eef2f7" stroke="#eef2f7" stroke-width="17.0" stroke-linejoin="round"/>
<path d="M1743.2 352.5A475.8 475.8 0 0 1 1744.8 352.5L1744.6 370.1A458.2 458.2 0 0 0 1743.8 370.1Z" fill="#eef2f7" stroke="#eef2f7" stroke-width="17.0" stroke-linejoin="round"/>
<path d="M1767.3 352.9A475.8 475.8 0 0 1 1768.9 352.9L1767.7 370.5A458.2 458.2 0 0 0 1767.0 370.5Z" fill="#eef2f7" stroke="#eef2f7" stroke-width="17.0" stroke-linejoin="round"/>
<path d="M1790.5 354.3A475.8 475.8 0 0 1 1792.1 354.5L1790.1 371.9A458.2 458.2 0 0 0 1789.4 371.9Z" fill="#eef2f7" stroke="#eef2f7" stroke-width="17.0" stroke-linejoin="round"/>
<path d="M1812.8 356.8A475.8 475.8 0 0 1 1814.3 357.0L1811.5 374.4A458.2 458.2 0 0 0 1810.8 374.3Z" fill="#eef2f7" stroke="#eef2f7" stroke-width="17.0" stroke-linejoin="round"/>
<path d="M1835.8 360.5A475.8 475.8 0 0 1 1837.3 360.8L1833.6 378.0A458.2 458.2 0 0 0 1832.9 377.9Z" fill="#fdb769" stroke="#fdb769" stroke-width="17.0" stroke-linejoin="round"/>
<path d="M1857.7 365.1A475.8 475.8 0 0 1 1859.2 365.4L1854.8 382.5A458.2 458.2 0 0 0 1854.1 382.3Z" fill="#fdb769" stroke="#fdb769" stroke-width="17.0" stroke-linejoin="round"/>
<path d="M1880.2 370.9A475.8 475.8 0 0 1 1881.7 371.4L1876.4 388.2A458.2 458.2 0 0 0 1875.7 388.0Z" fill="#fdb769" stroke="#fdb769" stroke-width="17.0" stroke-linejoin="round"/>
<path d="M1902.4 377.9A475.8 475.8 0 0 1 1903.9 378.4L1897.8 394.9A458.2 458.2 0 0 0 1897.1 394.7Z" fill="#eef2f7" stroke="#eef2f7" stroke-width="17.0" stroke-linejoin="round"/>
<path d="M1923.4 385.6A475.8 475.8 0 0 1 1924.9 386.2L1918.0 402.4A458.2 458.2 0 0 0 1917.3 402.1Z" fill="#eef2f7" stroke="#eef2f7" stroke-width="17.0" stroke-linejoin="round"/>
<path d="M1944.8 394.7A475.8 475.8 0 0 1 1946.3 395.3L1938.6 411.2A458.2 458.2 0 0 0 1938.0 410.9Z" fill="#fdb769" stroke="#fdb769" stroke-width="17.0" stroke-linejoin="round"/>
<path d="M1965.1 404.4A475.8 475.8 0 0 1 1966.4 405.1L1958.0 420.6A458.2 458.2 0 0 0 1957.4 420.2Z" fill="#7a1219" stroke="#7a1219" stroke-width="17.0" stroke-linejoin="round"/>
<path d="M1985.5 415.4A475.8 475.8 0 0 1 1986.9 416.2L1977.7 431.3A458.2 458.2 0 0 0 1977.1 430.9Z" fill="#fdb769" stroke="#fdb769" stroke-width="17.0" stroke-linejoin="round"/>
<path d="M2004.7 427.0A475.8 475.8 0 0 1 2006.0 427.9L1996.2 442.5A458.2 458.2 0 0 0 1995.6 442.1Z" fill="#7a1219" stroke="#7a1219" stroke-width="17.0" stroke-linejoin="round"/>
<path d="M2024.0 440.0A475.8 475.8 0 0 1 2025.3 440.9L2014.7 455.0A458.2 458.2 0 0 0 2014.1 454.6Z" fill="#ff8a00" stroke="#ff8a00" stroke-width="17.0" stroke-linejoin="round"/>
<path d="M2042.0 453.4A475.8 475.8 0 0 1 2043.2 454.4L2032.0 467.9A458.2 458.2 0 0 0 2031.4 467.5Z" fill="#eef2f7" stroke="#eef2f7" stroke-width="17.0" stroke-linejoin="round"/>
<path d="M2059.9 468.2A475.8 475.8 0 0 1 2061.1 469.2L2049.3 482.2A458.2 458.2 0 0 0 2048.7 481.7Z" fill="#7a1219" stroke="#7a1219" stroke-width="17.0" stroke-linejoin="round"/>
<path d="M2076.6 483.2A475.8 475.8 0 0 1 2077.7 484.3L2065.2 496.7A458.2 458.2 0 0 0 2064.7 496.2Z" fill="#7a1219" stroke="#7a1219" stroke-width="17.0" stroke-linejoin="round"/>
<path d="M2092.5 499.0A475.8 475.8 0 0 1 2093.5 500.1L2080.5 512.0A458.2 458.2 0 0 0 2080.0 511.5Z" fill="#eef2f7" stroke="#eef2f7" stroke-width="17.0" stroke-linejoin="round"/>
<path d="M2108.1 516.2A475.8 475.8 0 0 1 2109.1 517.4L2095.6 528.6A458.2 458.2 0 0 0 2095.1 528.0Z" fill="#eef2f7" stroke="#eef2f7" stroke-width="17.0" stroke-linejoin="round"/>
<path d="M2122.9 534.1A475.8 475.8 0 0 1 2123.9 535.3L2109.8 545.9A458.2 458.2 0 0 0 2109.4 545.3Z" fill="#ab1e29" stroke="#ab1e29" stroke-width="17.0" stroke-linejoin="round"/>
<path d="M2136.4 552.0A475.8 475.8 0 0 1 2137.3 553.3L2122.7 563.2A458.2 458.2 0 0 0 2122.3 562.6Z" fill="#fdb769" stroke="#fdb769" stroke-width="17.0" stroke-linejoin="round"/>
<path d="M2149.0 570.6A475.8 475.8 0 0 1 2149.8 571.9L2134.8 581.1A458.2 458.2 0 0 0 2134.4 580.5Z" fill="#ff8a00" stroke="#ff8a00" stroke-width="17.0" stroke-linejoin="round"/>
<path d="M2160.7 589.7A475.8 475.8 0 0 1 2161.4 591.1L2146.0 599.5A458.2 458.2 0 0 0 2145.6 598.9Z" fill="#fdb769" stroke="#fdb769" stroke-width="17.0" stroke-linejoin="round"/>
<path d="M2171.8 610.1A475.8 475.8 0 0 1 2172.5 611.5L2156.7 619.2A458.2 458.2 0 0 0 2156.4 618.5Z" fill="#fdb769" stroke="#fdb769" stroke-width="17.0" stroke-linejoin="round"/>
<path d="M2181.6 630.3A475.8 475.8 0 0 1 2182.3 631.7L2166.1 638.6A458.2 458.2 0 0 0 2165.8 638.0Z" fill="#eef2f7" stroke="#eef2f7" stroke-width="17.0" stroke-linejoin="round"/>
<path d="M2190.8 651.7A475.8 475.8 0 0 1 2191.4 653.1L2174.9 659.2A458.2 458.2 0 0 0 2174.6 658.6Z" fill="#eef2f7" stroke="#eef2f7" stroke-width="17.0" stroke-linejoin="round"/>
<path d="M2198.6 672.7A475.8 475.8 0 0 1 2199.1 674.1L2182.4 679.5A458.2 458.2 0 0 0 2182.1 678.8Z" fill="#eef2f7" stroke="#eef2f7" stroke-width="17.0" stroke-linejoin="round"/>
<path d="M2205.5 694.0A475.8 475.8 0 0 1 2205.9 695.5L2188.9 700.0A458.2 458.2 0 0 0 2188.7 699.4Z" fill="#eef2f7" stroke="#eef2f7" stroke-width="17.0" stroke-linejoin="round"/>
<path d="M2211.3 715.7A475.8 475.8 0 0 1 2211.6 717.2L2194.4 720.9A458.2 458.2 0 0 0 2194.3 720.2Z" fill="#fdb769" stroke="#fdb769" stroke-width="17.0" stroke-linejoin="round"/>
<path d="M2216.1 737.6A475.8 475.8 0 0 1 2216.4 739.1L2199.0 742.0A458.2 458.2 0 0 0 2198.9 741.3Z" fill="#7a1219" stroke="#7a1219" stroke-width="17.0" stroke-linejoin="round"/>
<path d="M2219.9 760.5A475.8 475.8 0 0 1 2220.2 762.0L2202.7 764.1A458.2 458.2 0 0 0 2202.6 763.4Z" fill="#fdb769" stroke="#fdb769" stroke-width="17.0" stroke-linejoin="round"/>
<path d="M2222.6 782.8A475.8 475.8 0 0 1 2222.8 784.3L2205.2 785.5A458.2 458.2 0 0 0 2205.1 784.8Z" fill="#eef2f7" stroke="#eef2f7" stroke-width="17.0" stroke-linejoin="round"/>
<path d="M2224.3 805.9A475.8 475.8 0 0 1 2224.3 807.5L2206.7 807.9A458.2 458.2 0 0 0 2206.7 807.2Z" fill="#f15a22" stroke="#f15a22" stroke-width="17.0" stroke-linejoin="round"/>
<path d="M2224.8 829.2A475.8 475.8 0 0 1 2224.8 830.7L2207.2 830.3A458.2 458.2 0 0 0 2207.2 829.5Z" fill="#fdb769" stroke="#fdb769" stroke-width="17.0" stroke-linejoin="round"/>
<path d="M2224.2 852.4A475.8 475.8 0 0 1 2224.1 854.0L2206.6 852.6A458.2 458.2 0 0 0 2206.6 851.9Z" fill="#fdb769" stroke="#fdb769" stroke-width="17.0" stroke-linejoin="round"/>
<path d="M2222.4 875.6A475.8 475.8 0 0 1 2222.3 877.2L2204.8 875.0A458.2 458.2 0 0 0 2204.9 874.3Z" fill="#eef2f7" stroke="#eef2f7" stroke-width="17.0" stroke-linejoin="round"/>
<path d="M2219.7 897.9A475.8 475.8 0 0 1 2219.5 899.4L2202.1 896.4A458.2 458.2 0 0 0 2202.2 895.7Z" fill="#fdb769" stroke="#fdb769" stroke-width="17.0" stroke-linejoin="round"/>
<path d="M2215.9 920.0A475.8 475.8 0 0 1 2215.6 921.5L2198.4 917.6A458.2 458.2 0 0 0 2198.5 916.9Z" fill="#fdb769" stroke="#fdb769" stroke-width="17.0" stroke-linejoin="round"/>
<path d="M2210.9 942.7A475.8 475.8 0 0 1 2210.5 944.2L2193.5 939.5A458.2 458.2 0 0 0 2193.7 938.8Z" fill="#fdb769" stroke="#fdb769" stroke-width="17.0" stroke-linejoin="round"/>
<path d="M2204.7 965.1A475.8 475.8 0 0 1 2204.3 966.6L2187.5 961.1A458.2 458.2 0 0 0 2187.7 960.4Z" fill="#eef2f7" stroke="#eef2f7" stroke-width="17.0" stroke-linejoin="round"/>
<path d="M2197.8 986.4A475.8 475.8 0 0 1 2197.2 987.9L2180.8 981.6A458.2 458.2 0 0 0 2181.0 980.9Z" fill="#eef2f7" stroke="#eef2f7" stroke-width="17.0" stroke-linejoin="round"/>
<path d="M2189.8 1007.4A475.8 475.8 0 0 1 2189.2 1008.8L2173.1 1001.8A458.2 458.2 0 0 0 2173.4 1001.1Z" fill="#ff8a00" stroke="#ff8a00" stroke-width="17.0" stroke-linejoin="round"/>
<path d="M2180.5 1028.7A475.8 475.8 0 0 1 2179.9 1030.1L2164.1 1022.3A458.2 458.2 0 0 0 2164.4 1021.6Z" fill="#fdb769" stroke="#fdb769" stroke-width="17.0" stroke-linejoin="round"/>
<path d="M2170.6 1048.8A475.8 475.8 0 0 1 2169.9 1050.2L2154.5 1041.6A458.2 458.2 0 0 0 2154.9 1041.0Z" fill="#eef2f7" stroke="#eef2f7" stroke-width="17.0" stroke-linejoin="round"/>
<path d="M2159.8 1068.4A475.8 475.8 0 0 1 2159.0 1069.7L2144.0 1060.5A458.2 458.2 0 0 0 2144.4 1059.9Z" fill="#eef2f7" stroke="#eef2f7" stroke-width="17.0" stroke-linejoin="round"/>
<path d="M2148.0 1087.5A475.8 475.8 0 0 1 2147.2 1088.8L2132.6 1078.8A458.2 458.2 0 0 0 2133.0 1078.2Z" fill="#eef2f7" stroke="#eef2f7" stroke-width="17.0" stroke-linejoin="round"/>
<path d="M2135.4 1106.0A475.8 475.8 0 0 1 2134.4 1107.3L2120.4 1096.6A458.2 458.2 0 0 0 2120.8 1096.0Z" fill="#eef2f7" stroke="#eef2f7" stroke-width="17.0" stroke-linejoin="round"/>
<path d="M2121.3 1124.5A475.8 475.8 0 0 1 2120.4 1125.7L2106.9 1114.4A458.2 458.2 0 0 0 2107.3 1113.9Z" fill="#fdb769" stroke="#fdb769" stroke-width="17.0" stroke-linejoin="round"/>
<path d="M2107.0 1141.7A475.8 475.8 0 0 1 2105.9 1142.9L2093.0 1131.0A458.2 458.2 0 0 0 2093.5 1130.4Z" fill="#fdb769" stroke="#fdb769" stroke-width="17.0" stroke-linejoin="round"/>
<path d="M2091.8 1158.3A475.8 475.8 0 0 1 2090.7 1159.4L2078.4 1146.8A458.2 458.2 0 0 0 2078.8 1146.3Z" fill="#eef2f7" stroke="#eef2f7" stroke-width="17.0" stroke-linejoin="round"/>
<path d="M2075.9 1174.0A475.8 475.8 0 0 1 2074.7 1175.1L2063.0 1162.0A458.2 458.2 0 0 0 2063.5 1161.5Z" fill="#eef2f7" stroke="#eef2f7" stroke-width="17.0" stroke-linejoin="round"/>
<path d="M2058.6 1189.6A475.8 475.8 0 0 1 2057.4 1190.6L2046.3 1176.9A458.2 458.2 0 0 0 2046.8 1176.5Z" fill="#eef2f7" stroke="#eef2f7" stroke-width="17.0" stroke-linejoin="round"/>
<path d="M2040.6 1204.3A475.8 475.8 0 0 1 2039.4 1205.2L2028.9 1191.1A458.2 458.2 0 0 0 2029.5 1190.6Z" fill="#fdb769" stroke="#fdb769" stroke-width="17.0" stroke-linejoin="round"/>
<path d="M2021.9 1218.1A475.8 475.8 0 0 1 2020.6 1219.0L2010.9 1204.3A458.2 458.2 0 0 0 2011.4 1203.9Z" fill="#fdb769" stroke="#fdb769" stroke-width="17.0" stroke-linejoin="round"/>
<path d="M2003.2 1230.5A475.8 475.8 0 0 1 2001.9 1231.3L1992.9 1216.2A458.2 458.2 0 0 0 1993.5 1215.8Z" fill="#fdb769" stroke="#fdb769" stroke-width="17.0" stroke-linejoin="round"/>
<path d="M1983.2 1242.4A475.8 475.8 0 0 1 1981.9 1243.2L1973.6 1227.7A458.2 458.2 0 0 0 1974.2 1227.3Z" fill="#f15a22" stroke="#f15a22" stroke-width="17.0" stroke-linejoin="round"/>
<path d="M1962.7 1253.4A475.8 475.8 0 0 1 1961.3 1254.1L1953.8 1238.2A458.2 458.2 0 0 0 1954.5 1237.8Z" fill="#eef2f7" stroke="#eef2f7" stroke-width="17.0" stroke-linejoin="round"/>
<path d="M1941.7 1263.3A475.8 475.8 0 0 1 1940.3 1264.0L1933.6 1247.7A458.2 458.2 0 0 0 1934.2 1247.4Z" fill="#eef2f7" stroke="#eef2f7" stroke-width="17.0" stroke-linejoin="round"/>
<path d="M1921.0 1271.9A475.8 475.8 0 0 1 1919.6 1272.5L1913.6 1255.9A458.2 458.2 0 0 0 1914.3 1255.7Z" fill="#eef2f7" stroke="#eef2f7" stroke-width="17.0" stroke-linejoin="round"/>
<path d="M1899.1 1279.8A475.8 475.8 0 0 1 1897.7 1280.3L1892.5 1263.4A458.2 458.2 0 0 0 1893.2 1263.2Z" fill="#ff8a00" stroke="#ff8a00" stroke-width="17.0" stroke-linejoin="round"/>
<path d="M1877.7 1286.4A475.8 475.8 0 0 1 1876.2 1286.8L1871.9 1269.7A458.2 458.2 0 0 0 1872.6 1269.5Z" fill="#ff8a00" stroke="#ff8a00" stroke-width="17.0" stroke-linejoin="round"/>
<path d="M1855.2 1292.1A475.8 475.8 0 0 1 1853.7 1292.4L1850.2 1275.2A458.2 458.2 0 0 0 1850.9 1275.0Z" fill="#eef2f7" stroke="#eef2f7" stroke-width="17.0" stroke-linejoin="round"/>
<path d="M1833.2 1296.6A475.8 475.8 0 0 1 1831.7 1296.9L1829.0 1279.5A458.2 458.2 0 0 0 1829.7 1279.3Z" fill="#fdb769" stroke="#fdb769" stroke-width="17.0" stroke-linejoin="round"/>
<path d="M1811.1 1300.0A475.8 475.8 0 0 1 1809.5 1300.2L1807.7 1282.7A458.2 458.2 0 0 0 1808.4 1282.6Z" fill="#eef2f7" stroke="#eef2f7" stroke-width="17.0" stroke-linejoin="round"/>
<path d="M1787.9 1302.5A475.8 475.8 0 0 1 1786.4 1302.6L1785.4 1285.1A458.2 458.2 0 0 0 1786.1 1285.0Z" fill="#eef2f7" stroke="#eef2f7" stroke-width="17.0" stroke-linejoin="round"/>
<path d="M1765.6 1303.8A475.8 475.8 0 0 1 1764.0 1303.9L1763.8 1286.3A458.2 458.2 0 0 0 1764.5 1286.2Z" fill="#fdb769" stroke="#fdb769" stroke-width="17.0" stroke-linejoin="round"/>
<path d="M1742.3 1304.1A475.8 475.8 0 0 1 1740.8 1304.0L1741.4 1286.4A458.2 458.2 0 0 0 1742.2 1286.4Z" fill="#ff8a00" stroke="#ff8a00" stroke-width="17.0" stroke-linejoin="round"/>
<path d="M1719.9 1303.2A475.8 475.8 0 0 1 1718.3 1303.1L1719.9 1285.6A458.2 458.2 0 0 0 1720.6 1285.6Z" fill="#eef2f7" stroke="#eef2f7" stroke-width="17.0" stroke-linejoin="round"/>
<path d="M1696.7 1301.2A475.8 475.8 0 0 1 1695.2 1301.0L1697.6 1283.6A458.2 458.2 0 0 0 1698.3 1283.7Z" fill="#eef2f7" stroke="#eef2f7" stroke-width="17.0" stroke-linejoin="round"/>
<path d="M1674.5 1298.2A475.8 475.8 0 0 1 1673.0 1298.0L1676.2 1280.7A458.2 458.2 0 0 0 1676.9 1280.8Z" fill="#eef2f7" stroke="#eef2f7" stroke-width="17.0" stroke-linejoin="round"/>
<path d="M1651.6 1294.0A475.8 475.8 0 0 1 1650.1 1293.7L1654.2 1276.6A458.2 458.2 0 0 0 1654.9 1276.7Z" fill="#eef2f7" stroke="#eef2f7" stroke-width="17.0" stroke-linejoin="round"/>
<path d="M1629.0 1288.7A475.8 475.8 0 0 1 1627.5 1288.3L1632.4 1271.4A458.2 458.2 0 0 0 1633.1 1271.6Z" fill="#f15a22" stroke="#f15a22" stroke-width="17.0" stroke-linejoin="round"/>
<path d="M1607.5 1282.6A475.8 475.8 0 0 1 1606.0 1282.1L1611.6 1265.4A458.2 458.2 0 0 0 1612.3 1265.6Z" fill="#ff8a00" stroke="#ff8a00" stroke-width="17.0" stroke-linejoin="round"/>
<path d="M1586.2 1275.4A475.8 475.8 0 0 1 1584.8 1274.9L1591.2 1258.5A458.2 458.2 0 0 0 1591.9 1258.7Z" fill="#fdb769" stroke="#fdb769" stroke-width="17.0" stroke-linejoin="round"/>
<path d="M1564.6 1266.9A475.8 475.8 0 0 1 1563.1 1266.3L1570.4 1250.2A458.2 458.2 0 0 0 1571.0 1250.5Z" fill="#fdb769" stroke="#fdb769" stroke-width="17.0" stroke-linejoin="round"/>
<path d="M1544.1 1257.7A475.8 475.8 0 0 1 1542.7 1257.1L1550.7 1241.4A458.2 458.2 0 0 0 1551.3 1241.7Z" fill="#eef2f7" stroke="#eef2f7" stroke-width="17.0" stroke-linejoin="round"/>
<path d="M1523.4 1247.2A475.8 475.8 0 0 1 1522.0 1246.5L1530.8 1231.2A458.2 458.2 0 0 0 1531.4 1231.5Z" fill="#fdb769" stroke="#fdb769" stroke-width="17.0" stroke-linejoin="round"/>
<path d="M1503.2 1235.7A475.8 475.8 0 0 1 1501.9 1234.9L1511.3 1220.0A458.2 458.2 0 0 0 1511.9 1220.4Z" fill="#fdb769" stroke="#fdb769" stroke-width="17.0" stroke-linejoin="round"/>
<path d="M1484.3 1223.7A475.8 475.8 0 0 1 1483.0 1222.8L1493.1 1208.4A458.2 458.2 0 0 0 1493.7 1208.8Z" fill="#eef2f7" stroke="#eef2f7" stroke-width="17.0" stroke-linejoin="round"/>
<path d="M1465.9 1210.7A475.8 475.8 0 0 1 1464.7 1209.8L1475.5 1195.9A458.2 458.2 0 0 0 1476.1 1196.4Z" fill="#fdb769" stroke="#fdb769" stroke-width="17.0" stroke-linejoin="round"/>
<path d="M1447.6 1196.5A475.8 475.8 0 0 1 1446.4 1195.5L1457.9 1182.1A458.2 458.2 0 0 0 1458.4 1182.6Z" fill="#7a1219" stroke="#7a1219" stroke-width="17.0" stroke-linejoin="round"/>
<path d="M1430.0 1181.3A475.8 475.8 0 0 1 1428.8 1180.3L1441.0 1167.5A458.2 458.2 0 0 0 1441.5 1168.0Z" fill="#fdb769" stroke="#fdb769" stroke-width="17.0" stroke-linejoin="round"/>
<path d="M1413.7 1165.9A475.8 475.8 0 0 1 1412.6 1164.8L1425.3 1152.6A458.2 458.2 0 0 0 1425.8 1153.1Z" fill="#fdb769" stroke="#fdb769" stroke-width="17.0" stroke-linejoin="round"/>
<path d="M1397.6 1149.1A475.8 475.8 0 0 1 1396.6 1147.9L1409.9 1136.4A458.2 458.2 0 0 0 1410.3 1136.9Z" fill="#fdb769" stroke="#fdb769" stroke-width="17.0" stroke-linejoin="round"/>
<path d="M1382.9 1132.2A475.8 475.8 0 0 1 1381.9 1131.0L1395.7 1120.1A458.2 458.2 0 0 0 1396.2 1120.6Z" fill="#eef2f7" stroke="#eef2f7" stroke-width="17.0" stroke-linejoin="round"/>
<path d="M1368.5 1113.9A475.8 475.8 0 0 1 1367.5 1112.7L1381.9 1102.5A458.2 458.2 0 0 0 1382.3 1103.1Z" fill="#eef2f7" stroke="#eef2f7" stroke-width="17.0" stroke-linejoin="round"/>
<path d="M1355.4 1095.7A475.8 475.8 0 0 1 1354.6 1094.4L1369.4 1084.9A458.2 458.2 0 0 0 1369.8 1085.5Z" fill="#fdb769" stroke="#fdb769" stroke-width="17.0" stroke-linejoin="round"/>
<path d="M1342.9 1076.1A475.8 475.8 0 0 1 1342.0 1074.8L1357.3 1066.0A458.2 458.2 0 0 0 1357.7 1066.6Z" fill="#eef2f7" stroke="#eef2f7" stroke-width="17.0" stroke-linejoin="round"/>
<path d="M1331.6 1056.7A475.8 475.8 0 0 1 1330.9 1055.4L1346.5 1047.3A458.2 458.2 0 0 0 1346.9 1047.9Z" fill="#fdb769" stroke="#fdb769" stroke-width="17.0" stroke-linejoin="round"/>
<path d="M1321.0 1036.1A475.8 475.8 0 0 1 1320.3 1034.7L1336.3 1027.4A458.2 458.2 0 0 0 1336.6 1028.0Z" fill="#fdb769" stroke="#fdb769" stroke-width="17.0" stroke-linejoin="round"/>
<path d="M1311.7 1015.7A475.8 475.8 0 0 1 1311.0 1014.3L1327.4 1007.7A458.2 458.2 0 0 0 1327.7 1008.4Z" fill="#eef2f7" stroke="#eef2f7" stroke-width="17.0" stroke-linejoin="round"/>
<path d="M1303.0 994.1A475.8 475.8 0 0 1 1302.5 992.6L1319.1 986.9A458.2 458.2 0 0 0 1319.4 987.6Z" fill="#ff8a00" stroke="#ff8a00" stroke-width="17.0" stroke-linejoin="round"/>
<path d="M1295.5 972.1A475.8 475.8 0 0 1 1295.0 970.6L1311.9 965.7A458.2 458.2 0 0 0 1312.1 966.4Z" fill="#fdb769" stroke="#fdb769" stroke-width="17.0" stroke-linejoin="round"/>
<path d="M1289.2 950.6A475.8 475.8 0 0 1 1288.8 949.1L1305.9 945.0A458.2 458.2 0 0 0 1306.1 945.7Z" fill="#eef2f7" stroke="#eef2f7" stroke-width="17.0" stroke-linejoin="round"/>
<path d="M1283.8 928.0A475.8 475.8 0 0 1 1283.4 926.5L1300.7 923.2A458.2 458.2 0 0 0 1300.9 923.9Z" fill="#ff8a00" stroke="#ff8a00" stroke-width="17.0" stroke-linejoin="round"/>
<path d="M1279.6 906.0A475.8 475.8 0 0 1 1279.3 904.4L1296.8 902.0A458.2 458.2 0 0 0 1296.9 902.7Z" fill="#fdb769" stroke="#fdb769" stroke-width="17.0" stroke-linejoin="round"/>
<path d="M1276.3 882.9A475.8 475.8 0 0 1 1276.2 881.4L1293.7 879.8A458.2 458.2 0 0 0 1293.8 880.5Z" fill="#eef2f7" stroke="#eef2f7" stroke-width="17.0" stroke-linejoin="round"/>
<path d="M1274.3 860.6A475.8 475.8 0 0 1 1274.2 859.1L1291.8 858.3A458.2 458.2 0 0 0 1291.8 859.0Z" fill="#eef2f7" stroke="#eef2f7" stroke-width="17.0" stroke-linejoin="round"/>
<g font-family="Liberation Sans, Arial, sans-serif" font-weight="700">
<text transform="translate(1815.2 818.0) rotate(81.15)" text-anchor="middle" dy="0.36em" font-size="24" letter-spacing="0.6" fill="#111">Storage</text>
<text transform="translate(1710.7 883.3) rotate(394.90)" text-anchor="middle" dy="0.36em" font-size="24" letter-spacing="0.6" fill="#111">Hypervisor</text>
<text transform="translate(1691.0 794.7) rotate(300.05)" text-anchor="middle" dy="0.36em" font-size="24" letter-spacing="0.6" fill="#111">OS</text>
<text transform="rotate(-60.70 1749.0 828.3) translate(1879.3 828.3)" text-anchor="start" dy="0.36em" font-size="24" letter-spacing="0.6" fill="#111">ONTAP</text>
<text transform="rotate(-5.85 1749.0 828.3) translate(1879.3 828.3)" text-anchor="start" dy="0.36em" font-size="24" letter-spacing="0.6" fill="#111">SVC</text>
<text transform="rotate(29.65 1749.0 828.3) translate(1879.3 828.3)" text-anchor="start" dy="0.36em" font-size="24" letter-spacing="0.6" fill="#111">FlashArray</text>
<text transform="rotate(47.00 1749.0 828.3) translate(1879.3 828.3)" text-anchor="start" dy="0.36em" font-size="24" letter-spacing="0.6" fill="#111">PowerStore</text>
<text transform="rotate(63.35 1749.0 828.3) translate(1879.3 828.3)" text-anchor="start" dy="0.36em" font-size="24" letter-spacing="0.6" fill="#111">Unity</text>
<text transform="rotate(94.50 1749.0 828.3) translate(1879.3 828.3) rotate(180)" text-anchor="end" dy="0.36em" font-size="24" letter-spacing="0.6" fill="#111">vSphere</text>
<text transform="rotate(132.40 1749.0 828.3) translate(1879.3 828.3) rotate(180)" text-anchor="end" dy="0.36em" font-size="24" letter-spacing="0.6" fill="#111">Kubernetes</text>
<text transform="rotate(162.80 1749.0 828.3) translate(1879.3 828.3) rotate(180)" text-anchor="end" dy="0.36em" font-size="24" letter-spacing="0.6" fill="#111">PowerVM</text>
<text transform="rotate(193.40 1749.0 828.3) translate(1879.3 828.3) rotate(180)" text-anchor="end" dy="0.36em" font-size="24" letter-spacing="0.6" fill="#111">AIX</text>
<text transform="rotate(224.15 1749.0 828.3) translate(1879.3 828.3) rotate(180)" text-anchor="end" dy="0.36em" font-size="24" letter-spacing="0.6" fill="#111">Linux</text>
<text transform="rotate(250.20 1749.0 828.3) translate(1879.3 828.3) rotate(180)" text-anchor="end" dy="0.36em" font-size="24" letter-spacing="0.6" fill="#111">Brocade</text>
<text transform="rotate(265.45 1749.0 828.3) translate(1879.3 828.3) rotate(180)" text-anchor="end" dy="0.36em" font-size="24" letter-spacing="0.6" fill="#111">Cisco Nexu-</text>
<text transform="rotate(-82.20 1749.0 828.3) translate(2001.3 828.3)" text-anchor="start" dy="0.36em" font-size="21.3" letter-spacing="0.9" fill="#111">Storage provider</text>
<text transform="rotate(-69.85 1749.0 828.3) translate(2001.3 828.3)" text-anchor="start" dy="0.36em" font-size="21.3" letter-spacing="0.9" fill="#111">Ports</text>
<text transform="rotate(-60.40 1749.0 828.3) translate(2001.3 828.3)" text-anchor="start" dy="0.36em" font-size="21.3" letter-spacing="0.9" fill="#111">SVM</text>
<text filter="url(#tsh)" transform="rotate(-52.25 1749.0 828.3) translate(2001.3 828.3)" text-anchor="start" dy="0.36em" font-size="21.3" letter-spacing="0.9" fill="#fff">Copy services</text>
<text filter="url(#tsh)" transform="rotate(-45.30 1749.0 828.3) translate(2001.3 828.3)" text-anchor="start" dy="0.36em" font-size="21.3" letter-spacing="0.9" fill="#fff">Controller</text>
<text filter="url(#tsh)" transform="rotate(-39.60 1749.0 828.3) translate(2001.3 828.3)" text-anchor="start" dy="0.36em" font-size="21.3" letter-spacing="0.9" fill="#fff">SVM Block service</text>
<text transform="rotate(-23.10 1749.0 828.3) translate(2001.3 828.3)" text-anchor="start" dy="0.36em" font-size="21.3" letter-spacing="0.9" fill="#111">Virtualization layer</text>
<text filter="url(#tsh)" transform="rotate(-9.20 1749.0 828.3) translate(2001.3 828.3)" text-anchor="start" dy="0.36em" font-size="21.3" letter-spacing="0.9" fill="#fff">Ports</text>
<text transform="rotate(0.25 1749.0 828.3) translate(2001.3 828.3)" text-anchor="start" dy="0.36em" font-size="21.3" letter-spacing="0.9" fill="#111">Storage consumer</text>
<text transform="rotate(8.25 1749.0 828.3) translate(2001.3 828.3)" text-anchor="start" dy="0.36em" font-size="21.3" letter-spacing="0.9" fill="#111">Copy services</text>
<text transform="rotate(14.95 1749.0 828.3) translate(2001.3 828.3)" text-anchor="start" dy="0.36em" font-size="21.3" letter-spacing="0.9" fill="#111">Storage provider Fr-</text>
<text transform="rotate(23.20 1749.0 828.3) translate(2001.3 828.3)" text-anchor="start" dy="0.36em" font-size="21.3" letter-spacing="0.9" fill="#111">Storage consumer</text>
<text transform="rotate(27.95 1749.0 828.3) translate(2001.3 828.3)" text-anchor="start" dy="0.36em" font-size="21.3" letter-spacing="0.9" fill="#111">System</text>
<text transform="rotate(39.45 1749.0 828.3) translate(2001.3 828.3)" text-anchor="start" dy="0.36em" font-size="21.3" letter-spacing="0.9" fill="#111">Storage consumer</text>
<text transform="rotate(43.60 1749.0 828.3) translate(2001.3 828.3)" text-anchor="start" dy="0.36em" font-size="21.3" letter-spacing="0.9" fill="#111">System</text>
<text transform="rotate(57.05 1749.0 828.3) translate(2001.3 828.3)" text-anchor="start" dy="0.36em" font-size="21.3" letter-spacing="0.9" fill="#111">Storage consumer</text>
<text transform="rotate(62.40 1749.0 828.3) translate(2001.3 828.3)" text-anchor="start" dy="0.36em" font-size="21.3" letter-spacing="0.9" fill="#111">System</text>
<text transform="rotate(79.15 1749.0 828.3) translate(2001.3 828.3)" text-anchor="start" dy="0.36em" font-size="21.3" letter-spacing="0.9" fill="#111">Virtualization layer</text>
<text transform="rotate(93.55 1749.0 828.3) translate(2001.3 828.3) rotate(180)" text-anchor="end" dy="0.36em" font-size="21.3" letter-spacing="0.9" fill="#111">Resource consumer</text>
<text transform="rotate(104.50 1749.0 828.3) translate(2001.3 828.3) rotate(180)" text-anchor="end" dy="0.36em" font-size="21.3" letter-spacing="0.9" fill="#111">Network</text>
<text transform="rotate(112.85 1749.0 828.3) translate(2001.3 828.3) rotate(180)" text-anchor="end" dy="0.36em" font-size="21.3" letter-spacing="0.9" fill="#111">Resource provider</text>
<text transform="rotate(122.55 1749.0 828.3) translate(2001.3 828.3) rotate(180)" text-anchor="end" dy="0.36em" font-size="21.3" letter-spacing="0.9" fill="#111">Workload</text>
<text transform="rotate(132.20 1749.0 828.3) translate(2001.3 828.3) rotate(180)" text-anchor="end" dy="0.36em" font-size="21.3" letter-spacing="0.9" fill="#111">Cluster wide</text>
<text transform="rotate(140.45 1749.0 828.3) translate(2001.3 828.3) rotate(180)" text-anchor="end" dy="0.36em" font-size="21.3" letter-spacing="0.9" fill="#111">Storage</text>
<text transform="rotate(151.95 1749.0 828.3) translate(2001.3 828.3) rotate(180)" text-anchor="end" dy="0.36em" font-size="21.3" letter-spacing="0.9" fill="#111">System</text>
<text transform="rotate(158.80 1749.0 828.3) translate(2001.3 828.3) rotate(180)" text-anchor="end" dy="0.36em" font-size="21.3" letter-spacing="0.9" fill="#111">HMC</text>
<text transform="rotate(164.05 1749.0 828.3) translate(2001.3 828.3) rotate(180)" text-anchor="end" dy="0.36em" font-size="21.3" letter-spacing="0.9" fill="#111">System network</text>
<text transform="rotate(169.40 1749.0 828.3) translate(2001.3 828.3) rotate(180)" text-anchor="end" dy="0.36em" font-size="21.3" letter-spacing="0.9" fill="#111">LPAR</text>
<text filter="url(#tsh)" transform="rotate(186.10 1749.0 828.3) translate(2001.3 828.3) rotate(180)" text-anchor="end" dy="0.36em" font-size="21.3" letter-spacing="0.9" fill="#fff">Storage</text>
<text transform="rotate(198.25 1749.0 828.3) translate(2001.3 828.3) rotate(180)" text-anchor="end" dy="0.36em" font-size="21.3" letter-spacing="0.9" fill="#111">LVM</text>
<text transform="rotate(205.25 1749.0 828.3) translate(2001.3 828.3) rotate(180)" text-anchor="end" dy="0.36em" font-size="21.3" letter-spacing="0.9" fill="#111">System</text>
<text filter="url(#tsh)" transform="rotate(217.55 1749.0 828.3) translate(2001.3 828.3) rotate(180)" text-anchor="end" dy="0.36em" font-size="21.3" letter-spacing="0.9" fill="#fff">Storage</text>
<text filter="url(#tsh)" transform="rotate(227.35 1749.0 828.3) translate(2001.3 828.3) rotate(180)" text-anchor="end" dy="0.36em" font-size="21.3" letter-spacing="0.9" fill="#fff">System</text>
<text transform="rotate(233.05 1749.0 828.3) translate(2001.3 828.3) rotate(180)" text-anchor="end" dy="0.36em" font-size="21.3" letter-spacing="0.9" fill="#111">LVM</text>
<text transform="rotate(242.95 1749.0 828.3) translate(2001.3 828.3) rotate(180)" text-anchor="end" dy="0.36em" font-size="21.3" letter-spacing="0.9" fill="#111">Zoning</text>
<text transform="rotate(249.20 1749.0 828.3) translate(2001.3 828.3) rotate(180)" text-anchor="end" dy="0.36em" font-size="21.3" letter-spacing="0.9" fill="#111">Physical</text>
<text transform="rotate(254.55 1749.0 828.3) translate(2001.3 828.3) rotate(180)" text-anchor="end" dy="0.36em" font-size="21.3" letter-spacing="0.9" fill="#111">Logical</text>
<text transform="rotate(264.05 1749.0 828.3) translate(2001.3 828.3) rotate(180)" text-anchor="end" dy="0.36em" font-size="21.3" letter-spacing="0.9" fill="#111">L1 Physical</text>
</g></svg><svg class="a" style="left:2286.3px;top:657.0px;" width="34" height="34" viewBox="0 0 34 34"><circle cx="17" cy="17" r="15.5" fill="#e3232f" opacity="1.0"/><path d="M12.5 12.5 L21.5 21.5 M21.5 12.5 L12.5 21.5" stroke="#fff" stroke-width="3.2" stroke-linecap="round"/></svg><div class="t" style="left:2333.0px;top:657.6px;font-size:32.70px;color:#111;transform-origin:0 50%;transform:scaleX(0.9256);font-weight:700;">Error:</div><div class="t" style="left:2505.3px;top:657.6px;font-size:32.70px;color:#111;transform-origin:0 50%;transform:scaleX(0.9149);">1.3 %</div><div class="a" style="left:2602px;top:662.7px;width:217px;height:22.6px;background:#e2e6ee"></div><div class="a" style="left:2602px;top:662.7px;width:4.3px;height:22.6px;background:#111"></div><svg class="a" style="left:2286.3px;top:741.5px;" width="34" height="34" viewBox="0 0 34 34"><circle cx="17" cy="17" r="15.5" fill="#ff8a00" opacity="1.0"/><path d="M17 9.5 V18.5" stroke="#fff" stroke-width="3.6" stroke-linecap="round"/><circle cx="17" cy="24" r="2.2" fill="#fff"/></svg><div class="t" style="left:2335.0px;top:742.1px;font-size:32.70px;color:#111;transform-origin:0 50%;transform:scaleX(0.9191);font-weight:700;">Warn:</div><div class="t" style="left:2506.0px;top:742.1px;font-size:32.70px;color:#111;transform-origin:0 50%;transform:scaleX(0.9056);">2.8 %</div><div class="a" style="left:2602px;top:747.2px;width:217px;height:22.6px;background:#e2e6ee"></div><div class="a" style="left:2602px;top:747.2px;width:7.0px;height:22.6px;background:#111"></div><svg class="a" style="left:2286.3px;top:801.5px;" width="34" height="34" viewBox="0 0 34 34"><circle cx="17" cy="17" r="15.5" fill="#1ca7dc" opacity="1.0"/><circle cx="17" cy="10.5" r="2.2" fill="#fff"/><path d="M13.5 15 H18 V24 M13.5 24.5 H21" stroke="#fff" stroke-width="3" fill="none"/></svg><div class="t" style="left:2332.9px;top:802.1px;font-size:32.70px;color:#111;transform-origin:0 50%;transform:scaleX(0.9782);font-weight:700;">Info:</div><div class="t" style="left:2487.1px;top:802.1px;font-size:32.70px;color:#111;transform-origin:0 50%;transform:scaleX(0.9539);">11.2 %</div><div class="a" style="left:2602px;top:807.2px;width:217px;height:22.6px;background:#e2e6ee"></div><div class="a" style="left:2602px;top:807.2px;width:25.0px;height:22.6px;background:#111"></div><svg class="a" style="left:2286.3px;top:861.2px;" width="34" height="34" viewBox="0 0 34 34"><circle cx="17" cy="17" r="15.5" fill="#3f9e3c" opacity="1.0"/><path d="M11 17.5 L15.3 21.5 L23.5 13" stroke="#fff" stroke-width="3.4" fill="none" stroke-linecap="round" stroke-linejoin="round"/></svg><div class="t" style="left:2333.8px;top:861.8px;font-size:32.70px;color:#111;transform-origin:0 50%;transform:scaleX(0.8814);font-weight:700;">OK:</div><div class="t" style="left:2488.0px;top:861.8px;font-size:32.70px;color:#111;transform-origin:0 50%;transform:scaleX(0.9209);">84.1 %</div><div class="a" style="left:2602px;top:866.9px;width:217px;height:22.6px;background:#e2e6ee"></div><div class="a" style="left:2602px;top:866.9px;width:182.0px;height:22.6px;background:#111"></div><svg class="a" style="left:2286.3px;top:922.3px;" width="34" height="34" viewBox="0 0 34 34"><circle cx="17" cy="17" r="15.5" fill="#64738c" opacity="1.0"/><path d="M13 13.5 c0-2.8 2-4.3 4.3-4.3 2.5 0 4.3 1.5 4.3 3.8 0 2-1.4 2.7-2.6 3.5-0.9.6-1.3 1.1-1.3 2.3" fill="none" stroke="#fff" stroke-width="3" stroke-linecap="round"/><circle cx="17.6" cy="24" r="2" fill="#fff"/></svg><div class="t" style="left:2333.2px;top:922.9px;font-size:32.70px;color:#111;transform-origin:0 50%;transform:scaleX(0.9233);font-weight:700;">Unknown:</div><div class="t" style="left:2506.3px;top:922.9px;font-size:32.70px;color:#111;transform-origin:0 50%;transform:scaleX(0.9020);">0.5 %</div><div class="a" style="left:2602px;top:928.0px;width:217px;height:22.6px;background:#e2e6ee"></div><div class="a" style="left:2602px;top:928.0px;width:1.5px;height:22.6px;background:#111"></div><svg class="a" style="left:2283px;top:978.3px;" width="42" height="42" viewBox="0 0 42 42"><g fill="none" stroke="#aab0b9" stroke-width="3.4" stroke-linecap="round"><path d="M7 21 Q21 5 35 21 Q21 37 7 21 Z"/><circle cx="21" cy="21" r="6"/><path d="M4 5 L38 39"/></g></svg><div class="t" style="left:2333.1px;top:982.9px;font-size:32.70px;color:#9a9ea5;transform-origin:0 50%;transform:scaleX(0.9167);font-weight:700;">Excluded:</div><div class="t" style="left:2533.0px;top:982.9px;font-size:32.70px;color:#a4a8ae;transform-origin:0 50%;transform:scaleX(0.8655);">0 %</div><div class="a" style="left:2602px;top:988.0px;width:217px;height:22.6px;background:#e9ecf2"></div><div class="a" style="left:2288px;top:714.2px;width:532px;height:2px;background:#e1e6ee"></div><svg class="a" style="left:1194px;top:1467px;" width="42" height="42" viewBox="0 0 42 42"><g fill="none" stroke="#323a46" stroke-width="3.3" stroke-linejoin="round" stroke-linecap="round"><path d="M3 6 Q3 3 6 3 H17 L30 16 Q32 18 30 20 L20 30 Q18 32 16 30 L3 17 Z"/><path d="M24 4 L37 17 Q39 19 37 21 L26 32"/><circle cx="10" cy="10" r="1.6" fill="#323a46"/></g></svg><div class="t" style="left:1247.3px;top:1466.7px;font-size:36.97px;color:#323a46;transform-origin:0 50%;transform:scaleX(1.0135);-webkit-text-stroke:0.85px currentColor;">Tags</div><div class="a" style="left:1196px;top:1538.0px;width:778px;height:2px;background:#e1e6ee"></div><svg class="a" style="left:0;top:0" width="2100" height="2100" viewBox="0 0 2100 2100"><circle cx="1382.8" cy="1808" r="178.5" fill="#fff"/><circle cx="1382.8" cy="1808" r="111" fill="#fff"/><circle cx="1382.8" cy="1808" r="108.5" fill="#f0f3f8"/><path d="M1383.7 1632.0 A176 176 0 1 1 1270.1 1672.8 L1310.5 1721.2 A113 113 0 1 0 1383.4 1695.0 Z" fill="#4aa447" stroke="#fff" stroke-width="3" stroke-linejoin="round"/><path d="M1271.1 1672.0 A176 176 0 0 1 1289.5 1658.7 L1322.9 1712.2 A113 113 0 0 0 1311.1 1720.7 Z" fill="#1ca7dc" stroke="#fff" stroke-width="3" stroke-linejoin="round"/><path d="M1294.8 1655.6 A176 176 0 0 1 1355.9 1634.1 L1365.5 1696.3 A113 113 0 0 0 1326.3 1710.1 Z" fill="#ffa53a" stroke="#fff" stroke-width="3" stroke-linejoin="round"/><path d="M1359.5 1633.5 A176 176 0 0 1 1378.5 1632.1 L1380.0 1695.0 A113 113 0 0 0 1367.9 1696.0 Z" fill="#e3232f" stroke="#fff" stroke-width="3" stroke-linejoin="round"/><circle cx="1788.6" cy="1808" r="178.5" fill="#fff"/><circle cx="1788.6" cy="1808" r="111" fill="#fff"/><circle cx="1788.6" cy="1808" r="108.5" fill="#f0f3f8"/><path d="M1789.5 1632.0 A176 176 0 1 1 1696.6 1657.9 L1729.6 1711.7 A113 113 0 1 0 1789.2 1695.0 Z" fill="#4aa447" stroke="#fff" stroke-width="3" stroke-linejoin="round"/><path d="M1699.3 1656.4 A176 176 0 0 1 1732.8 1641.1 L1752.7 1700.8 A113 113 0 0 0 1731.2 1710.6 Z" fill="#1ca7dc" stroke="#fff" stroke-width="3" stroke-linejoin="round"/><path d="M1734.2 1640.6 A176 176 0 0 1 1743.6 1637.8 L1759.7 1698.7 A113 113 0 0 0 1753.7 1700.5 Z" fill="#ffa53a" stroke="#fff" stroke-width="3" stroke-linejoin="round"/><path d="M1745.4 1637.4 A176 176 0 0 1 1760.5 1634.3 L1770.5 1696.5 A113 113 0 0 0 1760.9 1698.5 Z" fill="#e3232f" stroke="#fff" stroke-width="3" stroke-linejoin="round"/><path d="M1762.9 1633.9 A176 176 0 0 1 1786.8 1632.0 L1787.4 1695.0 A113 113 0 0 0 1772.1 1696.2 Z" fill="#64738c" stroke="#fff" stroke-width="3" stroke-linejoin="round"/></svg><div class="t" style="left:1327.9px;top:1793.6px;font-size:29.68px;color:#111;transform-origin:0 50%;transform:scaleX(0.9388);">Capacity</div><div class="t" style="left:1713.1px;top:1779.8px;font-size:29.68px;color:#111;transform-origin:0 50%;transform:scaleX(0.9731);">Performanc</div><div class="t" style="left:1781.1px;top:1807.4px;font-size:29.68px;color:#111;transform-origin:0 50%;transform:scaleX(0.9200);">e</div><svg class="a" style="left:2112px;top:1467px;" width="42" height="42" viewBox="0 0 42 42"><g fill="none" stroke="#323a46" stroke-width="3.3" stroke-linejoin="round" stroke-linecap="round"><path d="M3 6 Q3 3 6 3 H17 L30 16 Q32 18 30 20 L20 30 Q18 32 16 30 L3 17 Z"/><path d="M24 4 L37 17 Q39 19 37 21 L26 32"/><circle cx="10" cy="10" r="1.6" fill="#323a46"/></g></svg><div class="t" style="left:2166.3px;top:1466.7px;font-size:36.97px;color:#323a46;transform-origin:0 50%;transform:scaleX(1.0135);-webkit-text-stroke:0.85px currentColor;">Tags</div><div class="a" style="left:2114px;top:1538.0px;width:778px;height:2px;background:#e1e6ee"></div><svg class="a" style="left:2115px;top:1574.4px;" width="32" height="32" viewBox="0 0 32 32"><g fill="none" stroke="#111" stroke-width="3" stroke-linejoin="round"><path d="M3 5.5 Q3 3 5.5 3 H14 L27 16 Q28.5 17.5 27 19 L19 27 Q17.5 28.5 16 27 L3 14 Z"/></g><circle cx="9" cy="9" r="1.7" fill="#111"/></svg><div class="t" style="left:2161.6px;top:1573.9px;font-size:32.81px;color:#111;transform-origin:0 50%;transform:scaleX(0.9293);font-weight:700;">Configuration</div><div class="a" style="left:2422.7px;top:1579.0px;width:467.6px;height:22.8px;background:linear-gradient(90deg,#e3232f 0.000%,#e3232f 2.622%,#ff8a00 2.622%,#ff8a00 8.240%,#1ca7dc 8.240%,#1ca7dc 45.543%,#4aa447 45.543%,#4aa447 100.000%)"></div><svg class="a" style="left:2115px;top:1636.68px;" width="32" height="32" viewBox="0 0 32 32"><g fill="none" stroke="#111" stroke-width="3" stroke-linejoin="round"><path d="M3 5.5 Q3 3 5.5 3 H14 L27 16 Q28.5 17.5 27 19 L19 27 Q17.5 28.5 16 27 L3 14 Z"/></g><circle cx="9" cy="9" r="1.7" fill="#111"/></svg><div class="t" style="left:2160.9px;top:1636.2px;font-size:32.81px;color:#111;transform-origin:0 50%;transform:scaleX(0.9029);font-weight:700;">Resource Plan…</div><div class="a" style="left:2422.7px;top:1641.3px;width:467.6px;height:22.8px;background:linear-gradient(90deg,#ff8a00 0.000%,#ff8a00 0.225%,#1ca7dc 0.225%,#1ca7dc 81.423%,#64738c 81.423%,#64738c 81.573%,#4aa447 81.573%,#4aa447 100.000%)"></div><svg class="a" style="left:2115px;top:1698.96px;" width="32" height="32" viewBox="0 0 32 32"><g fill="none" stroke="#111" stroke-width="3" stroke-linejoin="round"><path d="M3 5.5 Q3 3 5.5 3 H14 L27 16 Q28.5 17.5 27 19 L19 27 Q17.5 28.5 16 27 L3 14 Z"/></g><circle cx="9" cy="9" r="1.7" fill="#111"/></svg><div class="t" style="left:2161.9px;top:1698.5px;font-size:32.81px;color:#111;transform-origin:0 50%;transform:scaleX(0.9199);font-weight:700;">Security</div><div class="a" style="left:2422.7px;top:1703.6px;width:467.6px;height:22.8px;background:linear-gradient(90deg,#e3232f 0.000%,#e3232f 3.596%,#ff8a00 3.596%,#ff8a00 53.333%,#1ca7dc 53.333%,#1ca7dc 53.708%,#4aa447 53.708%,#4aa447 100.000%)"></div><svg class="a" style="left:2115px;top:1761.24px;" width="32" height="32" viewBox="0 0 32 32"><g fill="none" stroke="#111" stroke-width="3" stroke-linejoin="round"><path d="M3 5.5 Q3 3 5.5 3 H14 L27 16 Q28.5 17.5 27 19 L19 27 Q17.5 28.5 16 27 L3 14 Z"/></g><circle cx="9" cy="9" r="1.7" fill="#111"/></svg><div class="t" style="left:2161.9px;top:1760.7px;font-size:32.81px;color:#111;transform-origin:0 50%;transform:scaleX(0.9374);font-weight:700;">Status</div><div class="a" style="left:2422.7px;top:1765.8px;width:467.6px;height:22.8px;background:linear-gradient(90deg,#e3232f 0.000%,#e3232f 4.494%,#ff8a00 4.494%,#ff8a00 5.768%,#1ca7dc 5.768%,#1ca7dc 13.858%,#64738c 13.858%,#64738c 14.382%,#4aa447 14.382%,#4aa447 100.000%)"></div><svg class="a" style="left:2115px;top:1823.52px;" width="32" height="32" viewBox="0 0 32 32"><g fill="none" stroke="#111" stroke-width="3" stroke-linejoin="round"><path d="M3 5.5 Q3 3 5.5 3 H14 L27 16 Q28.5 17.5 27 19 L19 27 Q17.5 28.5 16 27 L3 14 Z"/></g><circle cx="9" cy="9" r="1.7" fill="#111"/></svg><div class="t" style="left:2161.9px;top:1823.0px;font-size:32.81px;color:#111;transform-origin:0 50%;transform:scaleX(0.9308);font-weight:700;">System Limits</div><div class="a" style="left:2422.7px;top:1828.1px;width:467.6px;height:22.8px;background:linear-gradient(90deg,#4aa447 0.000%,#4aa447 100.000%)"></div><svg class="a" style="left:2115px;top:1885.8000000000002px;" width="32" height="32" viewBox="0 0 32 32"><g fill="none" stroke="#111" stroke-width="3" stroke-linejoin="round"><path d="M3 5.5 Q3 3 5.5 3 H14 L27 16 Q28.5 17.5 27 19 L19 27 Q17.5 28.5 16 27 L3 14 Z"/></g><circle cx="9" cy="9" r="1.7" fill="#111"/></svg><div class="t" style="left:2162.5px;top:1885.3px;font-size:32.81px;color:#111;transform-origin:0 50%;transform:scaleX(0.9324);font-weight:700;">Transmission</div><div class="a" style="left:2422.7px;top:1890.4px;width:467.6px;height:22.8px;background:linear-gradient(90deg,#64738c 0.000%,#64738c 0.599%,#4aa447 0.599%,#4aa447 100.000%)"></div><div class="card" style="left:2985px;top:186px;width:872px;height:1183px;"></div><svg class="a" style="left:3030px;top:236px;" width="42" height="42" viewBox="0 0 42 42"><g fill="none" stroke="#323a46" stroke-width="3.4" stroke-linecap="round" stroke-linejoin="round"><path d="M6.9 14.1 A14.5 14.5 0 0 1 34.5 13.7"/><path d="M35.7 5.5 V15.4 H27.1"/><path d="M33.9 24 A14.5 14.5 0 0 1 6.5 25.3"/><path d="M4.4 31.9 V22 H14.3"/></g></svg><div class="t" style="left:3082.8px;top:237.3px;font-size:36.97px;color:#323a46;transform-origin:0 50%;transform:scaleX(0.9802);-webkit-text-stroke:0.85px currentColor;">Last alert rule changes</div><div class="a" style="left:3032px;top:323.2px;width:778px;height:2px;background:#e1e6ee"></div><div class="a" style="left:0;top:330px;width:3917px;height:998.5px;overflow:hidden"><div class="a" style="left:0;top:-330px;width:3917px;height:1400px"><div class="row" style="left:3032px;top:372.3px;width:778px;height:180px;border-radius:24px"></div><div class="t" style="left:3061.8px;top:406.4px;font-size:32.29px;color:#111;transform-origin:0 50%;transform:scaleX(0.9383);font-weight:700;">AIX Instance active memory consum…</div><div class="t" style="left:3656.8px;top:406.4px;font-size:32.29px;color:#4a4d52;transform-origin:0 50%;transform:scaleX(0.8991);">10:05 AM</div><svg class="a" style="left:3061.6px;top:479.0px;" width="34" height="34" viewBox="0 0 34 34"><circle cx="17" cy="17" r="15.5" fill="#a8d5a6"/><path d="M11 17.5 L15.3 21.5 L23.5 13" stroke="#fff" stroke-width="3.2" fill="none" stroke-linecap="round" stroke-linejoin="round"/></svg><div class="t" style="left:3108.9px;top:479.8px;font-size:32.29px;color:#9c9c9c;transform-origin:0 50%;transform:scaleX(0.8331);font-weight:700;">OK</div><svg class="a" style="left:3167px;top:482.0px;" width="32" height="28" viewBox="0 0 32 28"><path d="M3 14 H27 M17 4 L27.5 14 L17 24" fill="none" stroke="#111" stroke-width="3.2" stroke-linecap="round" stroke-linejoin="round"/></svg><svg class="a" style="left:3213.2px;top:479.0px;" width="34" height="34" viewBox="0 0 34 34"><circle cx="17" cy="17" r="15.5" fill="#64738c" opacity="1.0"/><path d="M13 13.5 c0-2.8 2-4.3 4.3-4.3 2.5 0 4.3 1.5 4.3 3.8 0 2-1.4 2.7-2.6 3.5-0.9.6-1.3 1.1-1.3 2.3" fill="none" stroke="#fff" stroke-width="3" stroke-linecap="round"/><circle cx="17.6" cy="24" r="2" fill="#fff"/></svg><div class="t" style="left:3259.8px;top:479.8px;font-size:32.29px;color:#111;transform-origin:0 50%;transform:scaleX(0.9370);font-weight:700;">Unknown</div><div class="row" style="left:3032px;top:582.4px;width:778px;height:180px;border-radius:24px"></div><div class="t" style="left:3061.8px;top:616.5px;font-size:32.29px;color:#111;transform-origin:0 50%;transform:scaleX(0.9390);font-weight:700;">AIX Instance paging space activity hi…</div><div class="t" style="left:3656.8px;top:616.5px;font-size:32.29px;color:#4a4d52;transform-origin:0 50%;transform:scaleX(0.8991);">10:05 AM</div><svg class="a" style="left:3061.6px;top:689.1px;" width="34" height="34" viewBox="0 0 34 34"><circle cx="17" cy="17" r="15.5" fill="#a8d5a6"/><path d="M11 17.5 L15.3 21.5 L23.5 13" stroke="#fff" stroke-width="3.2" fill="none" stroke-linecap="round" stroke-linejoin="round"/></svg><div class="t" style="left:3108.9px;top:689.9px;font-size:32.29px;color:#9c9c9c;transform-origin:0 50%;transform:scaleX(0.8331);font-weight:700;">OK</div><svg class="a" style="left:3167px;top:692.1px;" width="32" height="28" viewBox="0 0 32 28"><path d="M3 14 H27 M17 4 L27.5 14 L17 24" fill="none" stroke="#111" stroke-width="3.2" stroke-linecap="round" stroke-linejoin="round"/></svg><svg class="a" style="left:3213.2px;top:689.1px;" width="34" height="34" viewBox="0 0 34 34"><circle cx="17" cy="17" r="15.5" fill="#64738c" opacity="1.0"/><path d="M13 13.5 c0-2.8 2-4.3 4.3-4.3 2.5 0 4.3 1.5 4.3 3.8 0 2-1.4 2.7-2.6 3.5-0.9.6-1.3 1.1-1.3 2.3" fill="none" stroke="#fff" stroke-width="3" stroke-linecap="round"/><circle cx="17.6" cy="24" r="2" fill="#fff"/></svg><div class="t" style="left:3259.8px;top:689.9px;font-size:32.29px;color:#111;transform-origin:0 50%;transform:scaleX(0.9370);font-weight:700;">Unknown</div><div class="row" style="left:3032px;top:792.5px;width:778px;height:180px;border-radius:24px"></div><div class="t" style="left:3061.8px;top:826.6px;font-size:32.29px;color:#111;transform-origin:0 50%;transform:scaleX(0.9418);font-weight:700;">AIX Instance run queue too high</div><div class="t" style="left:3656.8px;top:826.6px;font-size:32.29px;color:#4a4d52;transform-origin:0 50%;transform:scaleX(0.8991);">10:05 AM</div><svg class="a" style="left:3061.6px;top:899.2px;" width="34" height="34" viewBox="0 0 34 34"><circle cx="17" cy="17" r="15.5" fill="#a8d5a6"/><path d="M11 17.5 L15.3 21.5 L23.5 13" stroke="#fff" stroke-width="3.2" fill="none" stroke-linecap="round" stroke-linejoin="round"/></svg><div class="t" style="left:3108.9px;top:900.0px;font-size:32.29px;color:#9c9c9c;transform-origin:0 50%;transform:scaleX(0.8331);font-weight:700;">OK</div><svg class="a" style="left:3167px;top:902.2px;" width="32" height="28" viewBox="0 0 32 28"><path d="M3 14 H27 M17 4 L27.5 14 L17 24" fill="none" stroke="#111" stroke-width="3.2" stroke-linecap="round" stroke-linejoin="round"/></svg><svg class="a" style="left:3213.2px;top:899.2px;" width="34" height="34" viewBox="0 0 34 34"><circle cx="17" cy="17" r="15.5" fill="#64738c" opacity="1.0"/><path d="M13 13.5 c0-2.8 2-4.3 4.3-4.3 2.5 0 4.3 1.5 4.3 3.8 0 2-1.4 2.7-2.6 3.5-0.9.6-1.3 1.1-1.3 2.3" fill="none" stroke="#fff" stroke-width="3" stroke-linecap="round"/><circle cx="17.6" cy="24" r="2" fill="#fff"/></svg><div class="t" style="left:3259.8px;top:900.0px;font-size:32.29px;color:#111;transform-origin:0 50%;transform:scaleX(0.9370);font-weight:700;">Unknown</div><div class="row" style="left:3032px;top:1002.6px;width:778px;height:180px;border-radius:24px"></div><div class="t" style="left:3061.8px;top:1036.7px;font-size:32.29px;color:#111;transform-origin:0 50%;transform:scaleX(0.9557);font-weight:700;">AIX Network adapter utilization high</div><div class="t" style="left:3656.8px;top:1036.7px;font-size:32.29px;color:#4a4d52;transform-origin:0 50%;transform:scaleX(0.8991);">10:00 AM</div><svg class="a" style="left:3061.6px;top:1109.3px;" width="34" height="34" viewBox="0 0 34 34"><circle cx="17" cy="17" r="15.5" fill="#a8d5a6"/><path d="M11 17.5 L15.3 21.5 L23.5 13" stroke="#fff" stroke-width="3.2" fill="none" stroke-linecap="round" stroke-linejoin="round"/></svg><div class="t" style="left:3108.9px;top:1110.1px;font-size:32.29px;color:#9c9c9c;transform-origin:0 50%;transform:scaleX(0.8331);font-weight:700;">OK</div><svg class="a" style="left:3167px;top:1112.3px;" width="32" height="28" viewBox="0 0 32 28"><path d="M3 14 H27 M17 4 L27.5 14 L17 24" fill="none" stroke="#111" stroke-width="3.2" stroke-linecap="round" stroke-linejoin="round"/></svg><svg class="a" style="left:3213.2px;top:1109.3px;" width="34" height="34" viewBox="0 0 34 34"><circle cx="17" cy="17" r="15.5" fill="#64738c" opacity="1.0"/><path d="M13 13.5 c0-2.8 2-4.3 4.3-4.3 2.5 0 4.3 1.5 4.3 3.8 0 2-1.4 2.7-2.6 3.5-0.9.6-1.3 1.1-1.3 2.3" fill="none" stroke="#fff" stroke-width="3" stroke-linecap="round"/><circle cx="17.6" cy="24" r="2" fill="#fff"/></svg><div class="t" style="left:3259.8px;top:1110.1px;font-size:32.29px;color:#111;transform-origin:0 50%;transform:scaleX(0.9370);font-weight:700;">Unknown</div><div class="row" style="left:3032px;top:1212.7px;width:778px;height:180px;border-radius:24px"></div><div class="t" style="left:3061.8px;top:1246.8px;font-size:32.29px;color:#111;transform-origin:0 50%;transform:scaleX(0.9436);font-weight:700;">AIX Network adapter utilization high …</div><div class="t" style="left:3656.8px;top:1246.8px;font-size:32.29px;color:#4a4d52;transform-origin:0 50%;transform:scaleX(0.8991);">10:00 AM</div><svg class="a" style="left:3061.6px;top:1319.4px;" width="34" height="34" viewBox="0 0 34 34"><circle cx="17" cy="17" r="15.5" fill="#a8d5a6"/><path d="M11 17.5 L15.3 21.5 L23.5 13" stroke="#fff" stroke-width="3.2" fill="none" stroke-linecap="round" stroke-linejoin="round"/></svg><div class="t" style="left:3108.9px;top:1320.2px;font-size:32.29px;color:#9c9c9c;transform-origin:0 50%;transform:scaleX(0.8331);font-weight:700;">OK</div><svg class="a" style="left:3167px;top:1322.4px;" width="32" height="28" viewBox="0 0 32 28"><path d="M3 14 H27 M17 4 L27.5 14 L17 24" fill="none" stroke="#111" stroke-width="3.2" stroke-linecap="round" stroke-linejoin="round"/></svg><svg class="a" style="left:3213.2px;top:1319.4px;" width="34" height="34" viewBox="0 0 34 34"><circle cx="17" cy="17" r="15.5" fill="#64738c" opacity="1.0"/><path d="M13 13.5 c0-2.8 2-4.3 4.3-4.3 2.5 0 4.3 1.5 4.3 3.8 0 2-1.4 2.7-2.6 3.5-0.9.6-1.3 1.1-1.3 2.3" fill="none" stroke="#fff" stroke-width="3" stroke-linecap="round"/><circle cx="17.6" cy="24" r="2" fill="#fff"/></svg><div class="t" style="left:3259.8px;top:1320.2px;font-size:32.29px;color:#111;transform-origin:0 50%;transform:scaleX(0.9370);font-weight:700;">Unknown</div></div></div><div class="card" style="left:2985px;top:1416.5px;width:872px;height:568px;"></div><svg class="a" style="left:3028px;top:1460px;" width="56" height="52" viewBox="0 0 56 52"><g fill="none" stroke="#323a46" stroke-width="3.6" stroke-linejoin="round"><path d="M12 12 V6.5 Q12 3 15.5 3 H36 L48 15 V44.5 Q48 48 44.5 48 H21"/><path d="M35 3.5 V15.5 H47.5"/></g><circle cx="12.5" cy="27.5" r="9.5" fill="#323a46"/><circle cx="12.5" cy="27.5" r="3.6" fill="#fff"/><path d="M7 35 L6.5 48 L12.5 44 L18.5 48 L18 35 Z" fill="#323a46"/></svg><div class="t" style="left:3093.1px;top:1466.7px;font-size:36.97px;color:#323a46;transform-origin:0 50%;transform:scaleX(0.9972);-webkit-text-stroke:0.85px currentColor;">License</div><div class="a" style="left:3032px;top:1540.0px;width:778px;height:2px;background:#e1e6ee"></div><svg class="a" style="left:3030.3px;top:1578.7px;" width="34" height="34" viewBox="0 0 34 34"><circle cx="17" cy="17" r="15.5" fill="#3f9e3c" opacity="1.0"/><path d="M11 17.5 L15.3 21.5 L23.5 13" stroke="#fff" stroke-width="3.4" fill="none" stroke-linecap="round" stroke-linejoin="round"/></svg><div class="t" style="left:3076.9px;top:1578.9px;font-size:33.33px;color:#555;transform-origin:0 50%;transform:scaleX(0.9815);">No license issue detected</div><div class="t" style="left:3030.0px;top:1653.4px;font-size:34.37px;color:#111;transform-origin:0 50%;transform:scaleX(0.8823);font-weight:700;">BVQ Entwicklungsteam</div><div class="a" style="left:0;top:1700px;width:3917px;height:225.5px;overflow:hidden"><div class="a" style="left:0;top:-1700px;width:3917px;height:2000px"><div class="a" style="left:3033px;top:1707px;width:776px;height:70px;border:2px solid #dfe4ed;border-radius:13px;box-sizing:border-box;background:#fff"></div><div class="t" style="left:3048.4px;top:1727.4px;font-size:30.72px;color:#1a1a1a;transform-origin:0 50%;transform:scaleX(0.9081);">Compute RAM size</div><div class="t" style="left:3532.9px;top:1727.4px;font-size:30.72px;color:#1a1a1a;transform-origin:0 50%;transform:scaleX(0.9200);"><b>65,64 TiB</b> of 250 TiB</div><div class="a" style="left:3033px;top:1787.3px;width:776px;height:70px;border:2px solid #dfe4ed;border-radius:13px;box-sizing:border-box;background:#fff"></div><div class="t" style="left:3047.5px;top:1807.7px;font-size:30.72px;color:#1a1a1a;transform-origin:0 50%;transform:scaleX(0.9525);">Network ports</div><div class="t" style="left:3487.1px;top:1807.7px;font-size:30.72px;color:#1a1a1a;transform-origin:0 50%;transform:scaleX(0.9228);"><b>761 Ports</b> of 9999 Ports</div><div class="a" style="left:3033px;top:1867.6px;width:776px;height:70px;border:2px solid #dfe4ed;border-radius:13px;box-sizing:border-box;background:#fff"></div><div class="t" style="left:3048.5px;top:1888.0px;font-size:30.72px;color:#1a1a1a;transform-origin:0 50%;transform:scaleX(0.9182);">Storage capacity</div><div class="t" style="left:3541.3px;top:1888.0px;font-size:30.72px;color:#1a1a1a;transform-origin:0 50%;transform:scaleX(0.8989);"><b>1,49 PiB</b> of 9,76 PiB</div></div></div></div></div><div class="t" style="left:230.9px;top:2188.6px;font-size:26.56px;color:#444;transform-origin:0 50%;transform:scaleX(0.9149);"><b>Version</b>: 2025.H2.3</div><div class="t" style="left:1817.6px;top:2189.4px;font-size:24.99px;color:#444;transform-origin:0 50%;transform:scaleX(0.9969);">© SVA System Vertrieb Alexander GmbH</div><div class="t" style="left:3643.0px;top:2189.7px;font-size:24.99px;color:#444;transform-origin:0 50%;transform:scaleX(0.9952);">A product by</div><svg class="a" style="left:3798px;top:2183px;" width="58" height="37" viewBox="0 0 58 37"><rect width="58" height="37" fill="#000"/><polygon points="0,0 20,0 0,36" fill="#4e80c0"/><text x="33" y="32" text-anchor="middle" font-family="Liberation Sans, Arial, sans-serif" font-weight="700" font-style="italic" font-size="24" fill="#fff" letter-spacing="-0.5">SVA</text></svg></body></html>
